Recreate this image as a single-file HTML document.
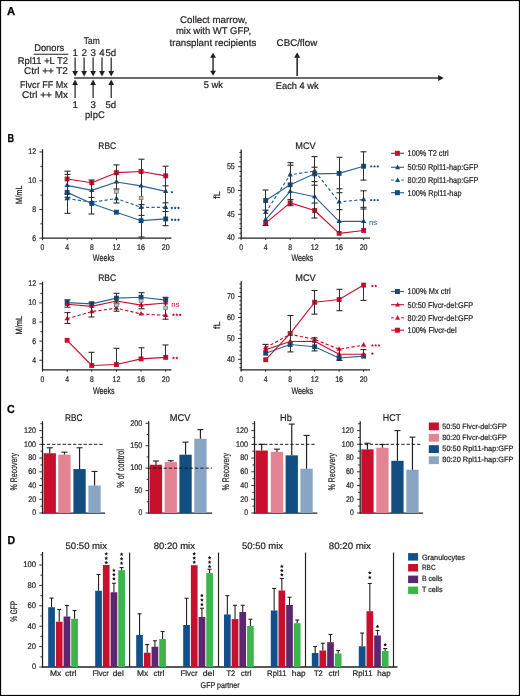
<!DOCTYPE html>
<html><head><meta charset="utf-8"><title>Figure</title>
<style>html,body{margin:0;padding:0;background:#fff;width:520px;height:696px;overflow:hidden}
svg{display:block;will-change:transform;font-family:"Liberation Sans", sans-serif}</style></head>
<body>
<svg width="520" height="696" viewBox="0 0 520 696" text-rendering="geometricPrecision" font-family='"Liberation Sans", sans-serif'>
<rect x="0" y="0" width="520" height="696" fill="#ffffff"/>
<rect x="0.5" y="0.5" width="519" height="695" fill="none" stroke="#000" stroke-width="1.2"/>
<text x="6.9" y="14.8" font-size="11.6" fill="#000" textLength="8.1" lengthAdjust="spacingAndGlyphs" font-weight="bold" stroke="#000" stroke-width="0.25">A</text>
<text x="7.4" y="141.9" font-size="11.6" fill="#000" textLength="6.6" lengthAdjust="spacingAndGlyphs" font-weight="bold" stroke="#000" stroke-width="0.25">B</text>
<text x="6.9" y="413.3" font-size="11.6" fill="#000" textLength="7.7" lengthAdjust="spacingAndGlyphs" font-weight="bold" stroke="#000" stroke-width="0.25">C</text>
<text x="7.4" y="544.3" font-size="11.6" fill="#000" textLength="7.6" lengthAdjust="spacingAndGlyphs" font-weight="bold" stroke="#000" stroke-width="0.25">D</text>
<text x="49.2" y="51.3" font-size="9.7" fill="#231f20" textLength="30" lengthAdjust="spacingAndGlyphs" text-anchor="middle" stroke="#231f20" stroke-width="0.22">Donors</text>
<line x1="33.7" y1="54.3" x2="68.3" y2="54.3" stroke="#231f20" stroke-width="1.1" stroke-linecap="butt"/>
<text x="67.9" y="64.4" font-size="9.7" fill="#231f20" textLength="50.2" lengthAdjust="spacingAndGlyphs" text-anchor="end" stroke="#231f20" stroke-width="0.22">Rpl11 +L T2</text>
<text x="67.9" y="73.6" font-size="9.7" fill="#231f20" textLength="43.9" lengthAdjust="spacingAndGlyphs" text-anchor="end" stroke="#231f20" stroke-width="0.22">Ctrl ++ T2</text>
<text x="67.9" y="88.1" font-size="9.7" fill="#231f20" textLength="47.9" lengthAdjust="spacingAndGlyphs" text-anchor="end" stroke="#231f20" stroke-width="0.22">Flvcr FF Mx</text>
<text x="67.9" y="97.7" font-size="9.7" fill="#231f20" textLength="45.8" lengthAdjust="spacingAndGlyphs" text-anchor="end" stroke="#231f20" stroke-width="0.22">Ctrl ++ Mx</text>
<text x="91.7" y="43.5" font-size="9.7" fill="#231f20" textLength="15.9" lengthAdjust="spacingAndGlyphs" text-anchor="middle" stroke="#231f20" stroke-width="0.22">Tam</text>
<text x="75.1" y="55.8" font-size="9.7" fill="#231f20" text-anchor="middle" stroke="#231f20" stroke-width="0.22">1</text>
<text x="84.1" y="55.8" font-size="9.7" fill="#231f20" text-anchor="middle" stroke="#231f20" stroke-width="0.22">2</text>
<text x="93.1" y="55.8" font-size="9.7" fill="#231f20" text-anchor="middle" stroke="#231f20" stroke-width="0.22">3</text>
<text x="101.9" y="55.8" font-size="9.7" fill="#231f20" text-anchor="middle" stroke="#231f20" stroke-width="0.22">4</text>
<text x="110.8" y="55.8" font-size="9.7" fill="#231f20" textLength="10.7" lengthAdjust="spacingAndGlyphs" text-anchor="middle" stroke="#231f20" stroke-width="0.22">5d</text>
<text x="75.1" y="108.1" font-size="9.7" fill="#231f20" text-anchor="middle" stroke="#231f20" stroke-width="0.22">1</text>
<text x="93.1" y="108.1" font-size="9.7" fill="#231f20" text-anchor="middle" stroke="#231f20" stroke-width="0.22">3</text>
<text x="110.8" y="108.1" font-size="9.7" fill="#231f20" textLength="10.7" lengthAdjust="spacingAndGlyphs" text-anchor="middle" stroke="#231f20" stroke-width="0.22">5d</text>
<text x="94.8" y="117.6" font-size="9.7" fill="#231f20" textLength="19.8" lengthAdjust="spacingAndGlyphs" text-anchor="middle" stroke="#231f20" stroke-width="0.22">pIpC</text>
<line x1="74.2" y1="78" x2="439" y2="78" stroke="#3b3b3b" stroke-width="1.6" stroke-linecap="butt"/>
<polygon points="438.2,75 443.7,78 438.2,81" fill="#231f20"/>
<line x1="75.1" y1="57.6" x2="75.1" y2="71.6" stroke="#231f20" stroke-width="1.2" stroke-linecap="butt"/>
<polygon points="72.2,71.1 78,71.1 75.1,76.5" fill="#231f20"/>
<line x1="84.1" y1="57.6" x2="84.1" y2="71.6" stroke="#231f20" stroke-width="1.2" stroke-linecap="butt"/>
<polygon points="81.2,71.1 87,71.1 84.1,76.5" fill="#231f20"/>
<line x1="93.1" y1="57.6" x2="93.1" y2="71.6" stroke="#231f20" stroke-width="1.2" stroke-linecap="butt"/>
<polygon points="90.2,71.1 96,71.1 93.1,76.5" fill="#231f20"/>
<line x1="102" y1="57.6" x2="102" y2="71.6" stroke="#231f20" stroke-width="1.2" stroke-linecap="butt"/>
<polygon points="99.1,71.1 104.9,71.1 102,76.5" fill="#231f20"/>
<line x1="111.2" y1="57.6" x2="111.2" y2="71.6" stroke="#231f20" stroke-width="1.2" stroke-linecap="butt"/>
<polygon points="108.3,71.1 114.1,71.1 111.2,76.5" fill="#231f20"/>
<line x1="75.1" y1="84.5" x2="75.1" y2="98" stroke="#231f20" stroke-width="1.2" stroke-linecap="butt"/>
<polygon points="72.2,85 78,85 75.1,79.6" fill="#231f20"/>
<line x1="93.1" y1="84.5" x2="93.1" y2="98" stroke="#231f20" stroke-width="1.2" stroke-linecap="butt"/>
<polygon points="90.2,85 96,85 93.1,79.6" fill="#231f20"/>
<line x1="111.2" y1="84.5" x2="111.2" y2="98" stroke="#231f20" stroke-width="1.2" stroke-linecap="butt"/>
<polygon points="108.3,85 114.1,85 111.2,79.6" fill="#231f20"/>
<line x1="213.05" y1="56.5" x2="213.05" y2="71.5" stroke="#333" stroke-width="1.5" stroke-linecap="butt"/>
<polygon points="210.1,57.7 216,57.7 213.05,52.7" fill="#231f20"/>
<polygon points="210.1,70.8 216,70.8 213.05,75.7" fill="#231f20"/>
<line x1="297.15" y1="57.2" x2="297.15" y2="75.9" stroke="#231f20" stroke-width="1.5" stroke-linecap="butt"/>
<polygon points="294.05,57.7 300.25,57.7 297.15,52.6" fill="#231f20"/>
<text x="213.6" y="23.1" font-size="9.7" fill="#231f20" textLength="67.1" lengthAdjust="spacingAndGlyphs" text-anchor="middle" stroke="#231f20" stroke-width="0.22">Collect marrow,</text>
<text x="213.5" y="34.3" font-size="9.7" fill="#231f20" textLength="75.1" lengthAdjust="spacingAndGlyphs" text-anchor="middle" stroke="#231f20" stroke-width="0.22">mix with WT GFP,</text>
<text x="212.9" y="45.7" font-size="9.7" fill="#231f20" textLength="86.8" lengthAdjust="spacingAndGlyphs" text-anchor="middle" stroke="#231f20" stroke-width="0.22">transplant recipients</text>
<text x="213.4" y="88.3" font-size="9.7" fill="#231f20" textLength="19.2" lengthAdjust="spacingAndGlyphs" text-anchor="middle" stroke="#231f20" stroke-width="0.22">5 wk</text>
<text x="296.9" y="46.2" font-size="9.7" fill="#231f20" textLength="40.6" lengthAdjust="spacingAndGlyphs" text-anchor="middle" stroke="#231f20" stroke-width="0.22">CBC/flow</text>
<text x="297.2" y="88.5" font-size="9.7" fill="#231f20" textLength="42.7" lengthAdjust="spacingAndGlyphs" text-anchor="middle" stroke="#231f20" stroke-width="0.22">Each 4 wk</text>
<text x="107.2" y="148.6" font-size="9.5" fill="#231f20" textLength="17.8" lengthAdjust="spacingAndGlyphs" text-anchor="middle" stroke="#231f20" stroke-width="0.22">RBC</text>
<text x="22.5" y="194.65" font-size="9" fill="#231f20" textLength="18.5" lengthAdjust="spacingAndGlyphs" transform="rotate(-90 22.5 194.65)" text-anchor="middle" stroke="#231f20" stroke-width="0.22">M/mL</text>
<line x1="42.5" y1="149.2" x2="42.5" y2="238.8" stroke="#231f20" stroke-width="1.25" stroke-linecap="butt"/>
<line x1="40.4" y1="223.83" x2="42.5" y2="223.83" stroke="#231f20" stroke-width="0.9" stroke-linecap="butt"/>
<line x1="40.4" y1="195.09" x2="42.5" y2="195.09" stroke="#231f20" stroke-width="0.9" stroke-linecap="butt"/>
<line x1="40.4" y1="166.35" x2="42.5" y2="166.35" stroke="#231f20" stroke-width="0.9" stroke-linecap="butt"/>
<line x1="39.3" y1="238.2" x2="42.5" y2="238.2" stroke="#231f20" stroke-width="0.9" stroke-linecap="butt"/>
<text x="36.1" y="241" font-size="8.2" fill="#231f20" textLength="3.8" lengthAdjust="spacingAndGlyphs" text-anchor="end" stroke="#231f20" stroke-width="0.22">6</text>
<line x1="39.3" y1="209.46" x2="42.5" y2="209.46" stroke="#231f20" stroke-width="0.9" stroke-linecap="butt"/>
<text x="36.1" y="212" font-size="8.2" fill="#231f20" textLength="3.8" lengthAdjust="spacingAndGlyphs" text-anchor="end" stroke="#231f20" stroke-width="0.22">8</text>
<line x1="39.3" y1="180.72" x2="42.5" y2="180.72" stroke="#231f20" stroke-width="0.9" stroke-linecap="butt"/>
<text x="36.1" y="183" font-size="8.2" fill="#231f20" textLength="7.9" lengthAdjust="spacingAndGlyphs" text-anchor="end" stroke="#231f20" stroke-width="0.22">10</text>
<line x1="39.3" y1="151.98" x2="42.5" y2="151.98" stroke="#231f20" stroke-width="0.9" stroke-linecap="butt"/>
<text x="36.1" y="154" font-size="8.2" fill="#231f20" textLength="7.9" lengthAdjust="spacingAndGlyphs" text-anchor="end" stroke="#231f20" stroke-width="0.22">12</text>
<line x1="41.9" y1="238.2" x2="171.5" y2="238.2" stroke="#231f20" stroke-width="1.25" stroke-linecap="butt"/>
<line x1="42.5" y1="238.2" x2="42.5" y2="240.2" stroke="#231f20" stroke-width="0.9" stroke-linecap="butt"/>
<text x="42.5" y="249.9" font-size="8.2" fill="#231f20" textLength="3.8" lengthAdjust="spacingAndGlyphs" text-anchor="middle" stroke="#231f20" stroke-width="0.22">0</text>
<line x1="67.14" y1="238.2" x2="67.14" y2="240.2" stroke="#231f20" stroke-width="0.9" stroke-linecap="butt"/>
<text x="67.14" y="249.9" font-size="8.2" fill="#231f20" textLength="3.8" lengthAdjust="spacingAndGlyphs" text-anchor="middle" stroke="#231f20" stroke-width="0.22">4</text>
<line x1="91.78" y1="238.2" x2="91.78" y2="240.2" stroke="#231f20" stroke-width="0.9" stroke-linecap="butt"/>
<text x="91.78" y="249.9" font-size="8.2" fill="#231f20" textLength="3.8" lengthAdjust="spacingAndGlyphs" text-anchor="middle" stroke="#231f20" stroke-width="0.22">8</text>
<line x1="116.42" y1="238.2" x2="116.42" y2="240.2" stroke="#231f20" stroke-width="0.9" stroke-linecap="butt"/>
<text x="116.42" y="249.9" font-size="8.2" fill="#231f20" textLength="7.9" lengthAdjust="spacingAndGlyphs" text-anchor="middle" stroke="#231f20" stroke-width="0.22">12</text>
<line x1="141.06" y1="238.2" x2="141.06" y2="240.2" stroke="#231f20" stroke-width="0.9" stroke-linecap="butt"/>
<text x="141.06" y="249.9" font-size="8.2" fill="#231f20" textLength="7.9" lengthAdjust="spacingAndGlyphs" text-anchor="middle" stroke="#231f20" stroke-width="0.22">16</text>
<line x1="165.7" y1="238.2" x2="165.7" y2="240.2" stroke="#231f20" stroke-width="0.9" stroke-linecap="butt"/>
<text x="165.7" y="249.9" font-size="8.2" fill="#231f20" textLength="7.9" lengthAdjust="spacingAndGlyphs" text-anchor="middle" stroke="#231f20" stroke-width="0.22">20</text>
<text x="103.7" y="261.4" font-size="9.6" fill="#231f20" textLength="21.8" lengthAdjust="spacingAndGlyphs" text-anchor="middle" stroke="#231f20" stroke-width="0.22">Weeks</text>
<polyline points="67.14,179 91.78,182.73 116.42,172.67 141.06,171.52 165.7,175.83" fill="none" stroke="#c8102e" stroke-width="1.15" stroke-linejoin="round"/>
<polyline points="67.14,185.32 91.78,190.35 116.42,182.01 141.06,185.89 165.7,191.35" fill="none" stroke="#2d6399" stroke-width="1.15" stroke-linejoin="round"/>
<polyline points="67.14,198.54 91.78,202.27 116.42,198.54 141.06,207.3 165.7,207.3" fill="none" stroke="#2d6399" stroke-width="1.15" stroke-dasharray="3.2,2.2" stroke-linejoin="round"/>
<polyline points="67.14,192.36 91.78,203.42 116.42,212.19 141.06,220.67 165.7,218.94" fill="none" stroke="#2d6399" stroke-width="1.15" stroke-linejoin="round"/>
<rect x="64.69" y="176.55" width="4.9" height="4.9" fill="#c8102e"/>
<rect x="89.33" y="180.28" width="4.9" height="4.9" fill="#c8102e"/>
<rect x="113.97" y="170.22" width="4.9" height="4.9" fill="#c8102e"/>
<rect x="138.61" y="169.07" width="4.9" height="4.9" fill="#c8102e"/>
<rect x="163.25" y="173.38" width="4.9" height="4.9" fill="#c8102e"/>
<polygon points="67.14,182.32 69.84,186.92 64.44,186.92" fill="#134e80"/>
<polygon points="91.78,187.35 94.48,191.95 89.08,191.95" fill="#134e80"/>
<polygon points="116.42,179.01 119.12,183.61 113.72,183.61" fill="#134e80"/>
<polygon points="141.06,182.89 143.76,187.49 138.36,187.49" fill="#134e80"/>
<polygon points="165.7,188.35 168.4,192.95 163,192.95" fill="#134e80"/>
<polygon points="67.14,195.54 69.84,200.14 64.44,200.14" fill="#134e80"/>
<polygon points="91.78,199.27 94.48,203.87 89.08,203.87" fill="#134e80"/>
<polygon points="116.42,195.54 119.12,200.14 113.72,200.14" fill="#134e80"/>
<polygon points="141.06,204.3 143.76,208.9 138.36,208.9" fill="#134e80"/>
<polygon points="165.7,204.3 168.4,208.9 163,208.9" fill="#134e80"/>
<rect x="64.69" y="189.91" width="4.9" height="4.9" fill="#134e80"/>
<rect x="89.33" y="200.97" width="4.9" height="4.9" fill="#134e80"/>
<rect x="113.97" y="209.74" width="4.9" height="4.9" fill="#134e80"/>
<rect x="138.61" y="218.22" width="4.9" height="4.9" fill="#134e80"/>
<rect x="163.25" y="216.49" width="4.9" height="4.9" fill="#134e80"/>
<line x1="67.5" y1="171.2" x2="67.5" y2="213.3" stroke="#303030" stroke-width="1" stroke-linecap="butt"/>
<line x1="64.5" y1="171.2" x2="70.5" y2="171.2" stroke="#2a2a2a" stroke-width="1.1" stroke-linecap="butt"/>
<line x1="64.5" y1="174.4" x2="70.5" y2="174.4" stroke="#2a2a2a" stroke-width="1.1" stroke-linecap="butt"/>
<line x1="64.5" y1="194" x2="70.5" y2="194" stroke="#2a2a2a" stroke-width="1.1" stroke-linecap="butt"/>
<line x1="64.5" y1="197.3" x2="70.5" y2="197.3" stroke="#2a2a2a" stroke-width="1.1" stroke-linecap="butt"/>
<line x1="64.5" y1="213.3" x2="70.5" y2="213.3" stroke="#2a2a2a" stroke-width="1.1" stroke-linecap="butt"/>
<line x1="91.5" y1="180" x2="91.5" y2="214" stroke="#303030" stroke-width="1" stroke-linecap="butt"/>
<line x1="88.5" y1="180" x2="94.5" y2="180" stroke="#2a2a2a" stroke-width="1.1" stroke-linecap="butt"/>
<line x1="88.5" y1="197.4" x2="94.5" y2="197.4" stroke="#2a2a2a" stroke-width="1.1" stroke-linecap="butt"/>
<line x1="88.5" y1="214" x2="94.5" y2="214" stroke="#2a2a2a" stroke-width="1.1" stroke-linecap="butt"/>
<line x1="116.5" y1="164.9" x2="116.5" y2="203" stroke="#303030" stroke-width="1" stroke-linecap="butt"/>
<line x1="113.5" y1="164.9" x2="119.5" y2="164.9" stroke="#2a2a2a" stroke-width="1.1" stroke-linecap="butt"/>
<line x1="113.5" y1="189" x2="119.5" y2="189" stroke="#2a2a2a" stroke-width="1.1" stroke-linecap="butt"/>
<line x1="113.5" y1="203" x2="119.5" y2="203" stroke="#2a2a2a" stroke-width="1.1" stroke-linecap="butt"/>
<line x1="141.5" y1="159.2" x2="141.5" y2="237" stroke="#303030" stroke-width="1" stroke-linecap="butt"/>
<line x1="138.5" y1="159.2" x2="144.5" y2="159.2" stroke="#2a2a2a" stroke-width="1.1" stroke-linecap="butt"/>
<line x1="138.5" y1="204.6" x2="144.5" y2="204.6" stroke="#2a2a2a" stroke-width="1.1" stroke-linecap="butt"/>
<line x1="138.5" y1="215.4" x2="144.5" y2="215.4" stroke="#2a2a2a" stroke-width="1.1" stroke-linecap="butt"/>
<line x1="138.5" y1="237" x2="144.5" y2="237" stroke="#2a2a2a" stroke-width="1.1" stroke-linecap="butt"/>
<line x1="165.5" y1="166.2" x2="165.5" y2="225.7" stroke="#303030" stroke-width="1" stroke-linecap="butt"/>
<line x1="162.5" y1="166.2" x2="168.5" y2="166.2" stroke="#2a2a2a" stroke-width="1.1" stroke-linecap="butt"/>
<line x1="162.5" y1="185.8" x2="168.5" y2="185.8" stroke="#2a2a2a" stroke-width="1.1" stroke-linecap="butt"/>
<line x1="162.5" y1="202.8" x2="168.5" y2="202.8" stroke="#2a2a2a" stroke-width="1.1" stroke-linecap="butt"/>
<line x1="162.5" y1="211.5" x2="168.5" y2="211.5" stroke="#2a2a2a" stroke-width="1.1" stroke-linecap="butt"/>
<line x1="162.5" y1="225.7" x2="168.5" y2="225.7" stroke="#2a2a2a" stroke-width="1.1" stroke-linecap="butt"/>
<rect x="114.52" y="189.8" width="3.8" height="3.4" fill="#c4c4c4" stroke="#6a6a6a" stroke-width="0.7"/>
<rect x="139.16" y="196.3" width="3.8" height="3.4" fill="#c4c4c4" stroke="#6a6a6a" stroke-width="0.7"/>
<polygon points="171.9,190.75 172.43,191.47 173.28,191.75 172.75,192.48 172.75,193.37 171.9,193.1 171.05,193.37 171.05,192.48 170.52,191.75 171.37,191.47" fill="#134e80"/>
<polygon points="171.9,206.55 172.43,207.27 173.28,207.55 172.75,208.28 172.75,209.17 171.9,208.9 171.05,209.17 171.05,208.28 170.52,207.55 171.37,207.27" fill="#134e80"/>
<polygon points="175.2,206.55 175.73,207.27 176.58,207.55 176.05,208.28 176.05,209.17 175.2,208.9 174.35,209.17 174.35,208.28 173.82,207.55 174.67,207.27" fill="#134e80"/>
<polygon points="178.5,206.55 179.03,207.27 179.88,207.55 179.35,208.28 179.35,209.17 178.5,208.9 177.65,209.17 177.65,208.28 177.12,207.55 177.97,207.27" fill="#134e80"/>
<polygon points="171.9,218.35 172.43,219.07 173.28,219.35 172.75,220.08 172.75,220.97 171.9,220.7 171.05,220.97 171.05,220.08 170.52,219.35 171.37,219.07" fill="#134e80"/>
<polygon points="175.2,218.35 175.73,219.07 176.58,219.35 176.05,220.08 176.05,220.97 175.2,220.7 174.35,220.97 174.35,220.08 173.82,219.35 174.67,219.07" fill="#134e80"/>
<polygon points="178.5,218.35 179.03,219.07 179.88,219.35 179.35,220.08 179.35,220.97 178.5,220.7 177.65,220.97 177.65,220.08 177.12,219.35 177.97,219.07" fill="#134e80"/>
<text x="305.5" y="148.6" font-size="9.5" fill="#231f20" textLength="20.5" lengthAdjust="spacingAndGlyphs" text-anchor="middle" stroke="#231f20" stroke-width="0.22">MCV</text>
<text x="220.3" y="194.9" font-size="9" fill="#231f20" transform="rotate(-90 220.3 194.9)" text-anchor="middle" stroke="#231f20" stroke-width="0.22">fL</text>
<line x1="241.2" y1="149.5" x2="241.2" y2="238.7" stroke="#231f20" stroke-width="1.25" stroke-linecap="butt"/>
<line x1="239.4" y1="233.34" x2="241.2" y2="233.34" stroke="#231f20" stroke-width="0.9" stroke-linecap="butt"/>
<line x1="239.4" y1="228.58" x2="241.2" y2="228.58" stroke="#231f20" stroke-width="0.9" stroke-linecap="butt"/>
<line x1="239.4" y1="223.82" x2="241.2" y2="223.82" stroke="#231f20" stroke-width="0.9" stroke-linecap="butt"/>
<line x1="239.4" y1="219.06" x2="241.2" y2="219.06" stroke="#231f20" stroke-width="0.9" stroke-linecap="butt"/>
<line x1="239.4" y1="209.54" x2="241.2" y2="209.54" stroke="#231f20" stroke-width="0.9" stroke-linecap="butt"/>
<line x1="239.4" y1="204.78" x2="241.2" y2="204.78" stroke="#231f20" stroke-width="0.9" stroke-linecap="butt"/>
<line x1="239.4" y1="200.02" x2="241.2" y2="200.02" stroke="#231f20" stroke-width="0.9" stroke-linecap="butt"/>
<line x1="239.4" y1="195.26" x2="241.2" y2="195.26" stroke="#231f20" stroke-width="0.9" stroke-linecap="butt"/>
<line x1="239.4" y1="185.74" x2="241.2" y2="185.74" stroke="#231f20" stroke-width="0.9" stroke-linecap="butt"/>
<line x1="239.4" y1="180.98" x2="241.2" y2="180.98" stroke="#231f20" stroke-width="0.9" stroke-linecap="butt"/>
<line x1="239.4" y1="176.22" x2="241.2" y2="176.22" stroke="#231f20" stroke-width="0.9" stroke-linecap="butt"/>
<line x1="239.4" y1="171.46" x2="241.2" y2="171.46" stroke="#231f20" stroke-width="0.9" stroke-linecap="butt"/>
<line x1="239.4" y1="161.94" x2="241.2" y2="161.94" stroke="#231f20" stroke-width="0.9" stroke-linecap="butt"/>
<line x1="239.4" y1="157.18" x2="241.2" y2="157.18" stroke="#231f20" stroke-width="0.9" stroke-linecap="butt"/>
<line x1="239.4" y1="152.42" x2="241.2" y2="152.42" stroke="#231f20" stroke-width="0.9" stroke-linecap="butt"/>
<line x1="238" y1="238.1" x2="241.2" y2="238.1" stroke="#231f20" stroke-width="0.9" stroke-linecap="butt"/>
<text x="234.8" y="240" font-size="8.2" fill="#231f20" textLength="7.9" lengthAdjust="spacingAndGlyphs" text-anchor="end" stroke="#231f20" stroke-width="0.22">40</text>
<line x1="238" y1="214.3" x2="241.2" y2="214.3" stroke="#231f20" stroke-width="0.9" stroke-linecap="butt"/>
<text x="234.8" y="217" font-size="8.2" fill="#231f20" textLength="7.9" lengthAdjust="spacingAndGlyphs" text-anchor="end" stroke="#231f20" stroke-width="0.22">45</text>
<line x1="238" y1="190.5" x2="241.2" y2="190.5" stroke="#231f20" stroke-width="0.9" stroke-linecap="butt"/>
<text x="234.8" y="193" font-size="8.2" fill="#231f20" textLength="7.9" lengthAdjust="spacingAndGlyphs" text-anchor="end" stroke="#231f20" stroke-width="0.22">50</text>
<line x1="238" y1="166.7" x2="241.2" y2="166.7" stroke="#231f20" stroke-width="0.9" stroke-linecap="butt"/>
<text x="234.8" y="169" font-size="8.2" fill="#231f20" textLength="7.9" lengthAdjust="spacingAndGlyphs" text-anchor="end" stroke="#231f20" stroke-width="0.22">55</text>
<line x1="240.6" y1="238.1" x2="370" y2="238.1" stroke="#231f20" stroke-width="1.25" stroke-linecap="butt"/>
<line x1="241.2" y1="238.1" x2="241.2" y2="240.1" stroke="#231f20" stroke-width="0.9" stroke-linecap="butt"/>
<text x="241.2" y="249.8" font-size="8.2" fill="#231f20" textLength="3.8" lengthAdjust="spacingAndGlyphs" text-anchor="middle" stroke="#231f20" stroke-width="0.22">0</text>
<line x1="265.68" y1="238.1" x2="265.68" y2="240.1" stroke="#231f20" stroke-width="0.9" stroke-linecap="butt"/>
<text x="265.68" y="249.8" font-size="8.2" fill="#231f20" textLength="3.8" lengthAdjust="spacingAndGlyphs" text-anchor="middle" stroke="#231f20" stroke-width="0.22">4</text>
<line x1="290.16" y1="238.1" x2="290.16" y2="240.1" stroke="#231f20" stroke-width="0.9" stroke-linecap="butt"/>
<text x="290.16" y="249.8" font-size="8.2" fill="#231f20" textLength="3.8" lengthAdjust="spacingAndGlyphs" text-anchor="middle" stroke="#231f20" stroke-width="0.22">8</text>
<line x1="314.64" y1="238.1" x2="314.64" y2="240.1" stroke="#231f20" stroke-width="0.9" stroke-linecap="butt"/>
<text x="314.64" y="249.8" font-size="8.2" fill="#231f20" textLength="7.9" lengthAdjust="spacingAndGlyphs" text-anchor="middle" stroke="#231f20" stroke-width="0.22">12</text>
<line x1="339.12" y1="238.1" x2="339.12" y2="240.1" stroke="#231f20" stroke-width="0.9" stroke-linecap="butt"/>
<text x="339.12" y="249.8" font-size="8.2" fill="#231f20" textLength="7.9" lengthAdjust="spacingAndGlyphs" text-anchor="middle" stroke="#231f20" stroke-width="0.22">16</text>
<line x1="363.6" y1="238.1" x2="363.6" y2="240.1" stroke="#231f20" stroke-width="0.9" stroke-linecap="butt"/>
<text x="363.6" y="249.8" font-size="8.2" fill="#231f20" textLength="7.9" lengthAdjust="spacingAndGlyphs" text-anchor="middle" stroke="#231f20" stroke-width="0.22">20</text>
<text x="302.3" y="261.4" font-size="9.6" fill="#231f20" textLength="21.8" lengthAdjust="spacingAndGlyphs" text-anchor="middle" stroke="#231f20" stroke-width="0.22">Weeks</text>
<polyline points="265.68,222.87 290.16,202.88 314.64,210.49 339.12,233.34 363.6,230.48" fill="none" stroke="#c8102e" stroke-width="1.15" stroke-linejoin="round"/>
<polyline points="265.68,219.54 290.16,191.45 314.64,196.69 339.12,221.44 363.6,221.44" fill="none" stroke="#2d6399" stroke-width="1.15" stroke-linejoin="round"/>
<polyline points="265.68,212.4 290.16,174.79 314.64,170.98 339.12,201.92 363.6,199.54" fill="none" stroke="#2d6399" stroke-width="1.15" stroke-dasharray="3.2,2.2" stroke-linejoin="round"/>
<polyline points="265.68,200.5 290.16,184.79 314.64,173.84 339.12,173.36 363.6,166.22" fill="none" stroke="#2d6399" stroke-width="1.15" stroke-linejoin="round"/>
<rect x="263.23" y="220.42" width="4.9" height="4.9" fill="#c8102e"/>
<rect x="287.71" y="200.43" width="4.9" height="4.9" fill="#c8102e"/>
<rect x="312.19" y="208.04" width="4.9" height="4.9" fill="#c8102e"/>
<rect x="336.67" y="230.89" width="4.9" height="4.9" fill="#c8102e"/>
<rect x="361.15" y="228.03" width="4.9" height="4.9" fill="#c8102e"/>
<polygon points="265.68,216.54 268.38,221.14 262.98,221.14" fill="#134e80"/>
<polygon points="290.16,188.45 292.86,193.05 287.46,193.05" fill="#134e80"/>
<polygon points="314.64,193.69 317.34,198.29 311.94,198.29" fill="#134e80"/>
<polygon points="339.12,218.44 341.82,223.04 336.42,223.04" fill="#134e80"/>
<polygon points="363.6,218.44 366.3,223.04 360.9,223.04" fill="#134e80"/>
<polygon points="265.68,209.4 268.38,214 262.98,214" fill="#134e80"/>
<polygon points="290.16,171.79 292.86,176.39 287.46,176.39" fill="#134e80"/>
<polygon points="314.64,167.98 317.34,172.58 311.94,172.58" fill="#134e80"/>
<polygon points="339.12,198.92 341.82,203.52 336.42,203.52" fill="#134e80"/>
<polygon points="363.6,196.54 366.3,201.14 360.9,201.14" fill="#134e80"/>
<rect x="263.23" y="198.05" width="4.9" height="4.9" fill="#134e80"/>
<rect x="287.71" y="182.34" width="4.9" height="4.9" fill="#134e80"/>
<rect x="312.19" y="171.39" width="4.9" height="4.9" fill="#134e80"/>
<rect x="336.67" y="170.91" width="4.9" height="4.9" fill="#134e80"/>
<rect x="361.15" y="163.77" width="4.9" height="4.9" fill="#134e80"/>
<line x1="265.5" y1="190" x2="265.5" y2="225.5" stroke="#303030" stroke-width="1" stroke-linecap="butt"/>
<line x1="262.5" y1="190" x2="268.5" y2="190" stroke="#2a2a2a" stroke-width="1.1" stroke-linecap="butt"/>
<line x1="262.5" y1="210.2" x2="268.5" y2="210.2" stroke="#2a2a2a" stroke-width="1.1" stroke-linecap="butt"/>
<line x1="262.5" y1="225.5" x2="268.5" y2="225.5" stroke="#2a2a2a" stroke-width="1.1" stroke-linecap="butt"/>
<line x1="290.5" y1="162.7" x2="290.5" y2="205.7" stroke="#303030" stroke-width="1" stroke-linecap="butt"/>
<line x1="287.5" y1="162.7" x2="293.5" y2="162.7" stroke="#2a2a2a" stroke-width="1.1" stroke-linecap="butt"/>
<line x1="287.5" y1="165.2" x2="293.5" y2="165.2" stroke="#2a2a2a" stroke-width="1.1" stroke-linecap="butt"/>
<line x1="287.5" y1="199.6" x2="293.5" y2="199.6" stroke="#2a2a2a" stroke-width="1.1" stroke-linecap="butt"/>
<line x1="287.5" y1="205.7" x2="293.5" y2="205.7" stroke="#2a2a2a" stroke-width="1.1" stroke-linecap="butt"/>
<line x1="314.5" y1="156.6" x2="314.5" y2="218" stroke="#303030" stroke-width="1" stroke-linecap="butt"/>
<line x1="311.5" y1="156.6" x2="317.5" y2="156.6" stroke="#2a2a2a" stroke-width="1.1" stroke-linecap="butt"/>
<line x1="311.5" y1="167.2" x2="317.5" y2="167.2" stroke="#2a2a2a" stroke-width="1.1" stroke-linecap="butt"/>
<line x1="311.5" y1="181.6" x2="317.5" y2="181.6" stroke="#2a2a2a" stroke-width="1.1" stroke-linecap="butt"/>
<line x1="311.5" y1="185.2" x2="317.5" y2="185.2" stroke="#2a2a2a" stroke-width="1.1" stroke-linecap="butt"/>
<line x1="311.5" y1="203" x2="317.5" y2="203" stroke="#2a2a2a" stroke-width="1.1" stroke-linecap="butt"/>
<line x1="311.5" y1="218" x2="317.5" y2="218" stroke="#2a2a2a" stroke-width="1.1" stroke-linecap="butt"/>
<line x1="339.5" y1="157.3" x2="339.5" y2="233" stroke="#303030" stroke-width="1" stroke-linecap="butt"/>
<line x1="336.5" y1="157.3" x2="342.5" y2="157.3" stroke="#2a2a2a" stroke-width="1.1" stroke-linecap="butt"/>
<line x1="336.5" y1="188.8" x2="342.5" y2="188.8" stroke="#2a2a2a" stroke-width="1.1" stroke-linecap="butt"/>
<line x1="336.5" y1="192.7" x2="342.5" y2="192.7" stroke="#2a2a2a" stroke-width="1.1" stroke-linecap="butt"/>
<line x1="336.5" y1="209.6" x2="342.5" y2="209.6" stroke="#2a2a2a" stroke-width="1.1" stroke-linecap="butt"/>
<line x1="363.5" y1="151.8" x2="363.5" y2="180.1" stroke="#303030" stroke-width="1" stroke-linecap="butt"/>
<line x1="360.5" y1="151.8" x2="366.5" y2="151.8" stroke="#2a2a2a" stroke-width="1.1" stroke-linecap="butt"/>
<line x1="360.5" y1="180.1" x2="366.5" y2="180.1" stroke="#2a2a2a" stroke-width="1.1" stroke-linecap="butt"/>
<line x1="363.5" y1="190.8" x2="363.5" y2="230" stroke="#303030" stroke-width="1" stroke-linecap="butt"/>
<line x1="360.5" y1="190.8" x2="366.5" y2="190.8" stroke="#2a2a2a" stroke-width="1.1" stroke-linecap="butt"/>
<line x1="360.5" y1="207.3" x2="366.5" y2="207.3" stroke="#2a2a2a" stroke-width="1.1" stroke-linecap="butt"/>
<line x1="360.5" y1="209" x2="366.5" y2="209" stroke="#2a2a2a" stroke-width="1.1" stroke-linecap="butt"/>
<polygon points="371.2,164.95 371.73,165.67 372.58,165.95 372.05,166.68 372.05,167.57 371.2,167.3 370.35,167.57 370.35,166.68 369.82,165.95 370.67,165.67" fill="#134e80"/>
<polygon points="374.5,164.95 375.03,165.67 375.88,165.95 375.35,166.68 375.35,167.57 374.5,167.3 373.65,167.57 373.65,166.68 373.12,165.95 373.97,165.67" fill="#134e80"/>
<polygon points="377.8,164.95 378.33,165.67 379.18,165.95 378.65,166.68 378.65,167.57 377.8,167.3 376.95,167.57 376.95,166.68 376.42,165.95 377.27,165.67" fill="#134e80"/>
<polygon points="371.2,198.75 371.73,199.47 372.58,199.75 372.05,200.48 372.05,201.37 371.2,201.1 370.35,201.37 370.35,200.48 369.82,199.75 370.67,199.47" fill="#134e80"/>
<polygon points="374.5,198.75 375.03,199.47 375.88,199.75 375.35,200.48 375.35,201.37 374.5,201.1 373.65,201.37 373.65,200.48 373.12,199.75 373.97,199.47" fill="#134e80"/>
<polygon points="377.8,198.75 378.33,199.47 379.18,199.75 378.65,200.48 378.65,201.37 377.8,201.1 376.95,201.37 376.95,200.48 376.42,199.75 377.27,199.47" fill="#134e80"/>
<text x="369" y="224.6" font-size="7.8" fill="#2d6399">ns</text>
<line x1="391.1" y1="153.3" x2="403.9" y2="153.3" stroke="#c8102e" stroke-width="1.15" stroke-linecap="butt"/>
<rect x="394.9" y="150.8" width="5" height="5" fill="#c8102e"/>
<text x="407.6" y="156.1" font-size="8.4" fill="#231f20" textLength="41" lengthAdjust="spacingAndGlyphs" stroke="#231f20" stroke-width="0.22">100% T2 ctrl</text>
<line x1="391.1" y1="167.3" x2="403.9" y2="167.3" stroke="#2d6399" stroke-width="1.15" stroke-linecap="butt"/>
<polygon points="397.6,164.6 400.1,169.2 395.1,169.2" fill="#134e80"/>
<text x="407.6" y="170.1" font-size="8.4" fill="#231f20" textLength="70.7" lengthAdjust="spacingAndGlyphs" stroke="#231f20" stroke-width="0.22">50:50 Rpl11-hap:GFP</text>
<line x1="391.1" y1="180.1" x2="393.7" y2="180.1" stroke="#2d6399" stroke-width="1.15" stroke-linecap="butt"/>
<line x1="401.4" y1="180.1" x2="403.9" y2="180.1" stroke="#2d6399" stroke-width="1.15" stroke-linecap="butt"/>
<polygon points="397.6,177.4 400.1,182 395.1,182" fill="#134e80"/>
<text x="407.6" y="182.9" font-size="8.4" fill="#231f20" textLength="70.7" lengthAdjust="spacingAndGlyphs" stroke="#231f20" stroke-width="0.22">80:20 Rpl11-hap:GFP</text>
<line x1="391.1" y1="192.7" x2="403.9" y2="192.7" stroke="#2d6399" stroke-width="1.15" stroke-linecap="butt"/>
<rect x="394.9" y="190.2" width="5" height="5" fill="#134e80"/>
<text x="407.6" y="195.5" font-size="8.4" fill="#231f20" textLength="54" lengthAdjust="spacingAndGlyphs" stroke="#231f20" stroke-width="0.22">100% Rpl11-hap</text>
<text x="107.15" y="280.6" font-size="9.5" fill="#231f20" textLength="17.9" lengthAdjust="spacingAndGlyphs" text-anchor="middle" stroke="#231f20" stroke-width="0.22">RBC</text>
<text x="22.5" y="325.2" font-size="9" fill="#231f20" textLength="18.5" lengthAdjust="spacingAndGlyphs" transform="rotate(-90 22.5 325.2)" text-anchor="middle" stroke="#231f20" stroke-width="0.22">M/mL</text>
<line x1="42.5" y1="281.7" x2="42.5" y2="370.4" stroke="#231f20" stroke-width="1.25" stroke-linecap="butt"/>
<line x1="40.4" y1="350.7" x2="42.5" y2="350.7" stroke="#231f20" stroke-width="0.9" stroke-linecap="butt"/>
<line x1="40.4" y1="331.6" x2="42.5" y2="331.6" stroke="#231f20" stroke-width="0.9" stroke-linecap="butt"/>
<line x1="40.4" y1="312.5" x2="42.5" y2="312.5" stroke="#231f20" stroke-width="0.9" stroke-linecap="butt"/>
<line x1="40.4" y1="293.4" x2="42.5" y2="293.4" stroke="#231f20" stroke-width="0.9" stroke-linecap="butt"/>
<line x1="39.3" y1="360.25" x2="42.5" y2="360.25" stroke="#231f20" stroke-width="0.9" stroke-linecap="butt"/>
<text x="36.1" y="363" font-size="8.2" fill="#231f20" textLength="3.8" lengthAdjust="spacingAndGlyphs" text-anchor="end" stroke="#231f20" stroke-width="0.22">4</text>
<line x1="39.3" y1="341.15" x2="42.5" y2="341.15" stroke="#231f20" stroke-width="0.9" stroke-linecap="butt"/>
<text x="36.1" y="344" font-size="8.2" fill="#231f20" textLength="3.8" lengthAdjust="spacingAndGlyphs" text-anchor="end" stroke="#231f20" stroke-width="0.22">6</text>
<line x1="39.3" y1="322.05" x2="42.5" y2="322.05" stroke="#231f20" stroke-width="0.9" stroke-linecap="butt"/>
<text x="36.1" y="324" font-size="8.2" fill="#231f20" textLength="3.8" lengthAdjust="spacingAndGlyphs" text-anchor="end" stroke="#231f20" stroke-width="0.22">8</text>
<line x1="39.3" y1="302.95" x2="42.5" y2="302.95" stroke="#231f20" stroke-width="0.9" stroke-linecap="butt"/>
<text x="36.1" y="305" font-size="8.2" fill="#231f20" textLength="7.9" lengthAdjust="spacingAndGlyphs" text-anchor="end" stroke="#231f20" stroke-width="0.22">10</text>
<line x1="39.3" y1="283.85" x2="42.5" y2="283.85" stroke="#231f20" stroke-width="0.9" stroke-linecap="butt"/>
<text x="36.1" y="286" font-size="8.2" fill="#231f20" textLength="7.9" lengthAdjust="spacingAndGlyphs" text-anchor="end" stroke="#231f20" stroke-width="0.22">12</text>
<line x1="41.9" y1="369.8" x2="171.5" y2="369.8" stroke="#231f20" stroke-width="1.25" stroke-linecap="butt"/>
<line x1="42.5" y1="369.8" x2="42.5" y2="371.8" stroke="#231f20" stroke-width="0.9" stroke-linecap="butt"/>
<text x="42.5" y="381.5" font-size="8.2" fill="#231f20" textLength="3.8" lengthAdjust="spacingAndGlyphs" text-anchor="middle" stroke="#231f20" stroke-width="0.22">0</text>
<line x1="67.14" y1="369.8" x2="67.14" y2="371.8" stroke="#231f20" stroke-width="0.9" stroke-linecap="butt"/>
<text x="67.14" y="381.5" font-size="8.2" fill="#231f20" textLength="3.8" lengthAdjust="spacingAndGlyphs" text-anchor="middle" stroke="#231f20" stroke-width="0.22">4</text>
<line x1="91.78" y1="369.8" x2="91.78" y2="371.8" stroke="#231f20" stroke-width="0.9" stroke-linecap="butt"/>
<text x="91.78" y="381.5" font-size="8.2" fill="#231f20" textLength="3.8" lengthAdjust="spacingAndGlyphs" text-anchor="middle" stroke="#231f20" stroke-width="0.22">8</text>
<line x1="116.42" y1="369.8" x2="116.42" y2="371.8" stroke="#231f20" stroke-width="0.9" stroke-linecap="butt"/>
<text x="116.42" y="381.5" font-size="8.2" fill="#231f20" textLength="7.9" lengthAdjust="spacingAndGlyphs" text-anchor="middle" stroke="#231f20" stroke-width="0.22">12</text>
<line x1="141.06" y1="369.8" x2="141.06" y2="371.8" stroke="#231f20" stroke-width="0.9" stroke-linecap="butt"/>
<text x="141.06" y="381.5" font-size="8.2" fill="#231f20" textLength="7.9" lengthAdjust="spacingAndGlyphs" text-anchor="middle" stroke="#231f20" stroke-width="0.22">16</text>
<line x1="165.7" y1="369.8" x2="165.7" y2="371.8" stroke="#231f20" stroke-width="0.9" stroke-linecap="butt"/>
<text x="165.7" y="381.5" font-size="8.2" fill="#231f20" textLength="7.9" lengthAdjust="spacingAndGlyphs" text-anchor="middle" stroke="#231f20" stroke-width="0.22">20</text>
<text x="103.8" y="394" font-size="9.6" fill="#231f20" textLength="21.8" lengthAdjust="spacingAndGlyphs" text-anchor="middle" stroke="#231f20" stroke-width="0.22">Weeks</text>
<polyline points="67.14,302.57 91.78,303.9 116.42,298.18 141.06,297.22 165.7,300.08" fill="none" stroke="#2d6399" stroke-width="1.15" stroke-linejoin="round"/>
<polyline points="67.14,304.29 91.78,306.39 116.42,301.04 141.06,305.15 165.7,302.95" fill="none" stroke="#c8102e" stroke-width="1.15" stroke-linejoin="round"/>
<polyline points="67.14,318.71 91.78,311.55 116.42,308.2 141.06,313.93 165.7,315.37" fill="none" stroke="#c8102e" stroke-width="1.15" stroke-dasharray="3.2,2.2" stroke-linejoin="round"/>
<polyline points="67.14,340.29 91.78,365.5 116.42,364.55 141.06,358.91 165.7,357.38" fill="none" stroke="#c8102e" stroke-width="1.15" stroke-linejoin="round"/>
<rect x="64.69" y="300.12" width="4.9" height="4.9" fill="#134e80"/>
<rect x="89.33" y="301.45" width="4.9" height="4.9" fill="#134e80"/>
<rect x="113.97" y="295.73" width="4.9" height="4.9" fill="#134e80"/>
<rect x="138.61" y="294.77" width="4.9" height="4.9" fill="#134e80"/>
<rect x="163.25" y="297.63" width="4.9" height="4.9" fill="#134e80"/>
<polygon points="67.14,301.29 69.84,305.89 64.44,305.89" fill="#c8102e"/>
<polygon points="91.78,303.39 94.48,307.99 89.08,307.99" fill="#c8102e"/>
<polygon points="116.42,298.04 119.12,302.64 113.72,302.64" fill="#c8102e"/>
<polygon points="141.06,302.15 143.76,306.75 138.36,306.75" fill="#c8102e"/>
<polygon points="165.7,299.95 168.4,304.55 163,304.55" fill="#c8102e"/>
<polygon points="67.14,315.71 69.84,320.31 64.44,320.31" fill="#c8102e"/>
<polygon points="91.78,308.55 94.48,313.15 89.08,313.15" fill="#c8102e"/>
<polygon points="116.42,305.2 119.12,309.8 113.72,309.8" fill="#c8102e"/>
<polygon points="141.06,310.93 143.76,315.53 138.36,315.53" fill="#c8102e"/>
<polygon points="165.7,312.37 168.4,316.97 163,316.97" fill="#c8102e"/>
<rect x="64.69" y="337.84" width="4.9" height="4.9" fill="#c8102e"/>
<rect x="89.33" y="363.05" width="4.9" height="4.9" fill="#c8102e"/>
<rect x="113.97" y="362.1" width="4.9" height="4.9" fill="#c8102e"/>
<rect x="138.61" y="356.46" width="4.9" height="4.9" fill="#c8102e"/>
<rect x="163.25" y="354.94" width="4.9" height="4.9" fill="#c8102e"/>
<line x1="67.5" y1="299.8" x2="67.5" y2="307.2" stroke="#303030" stroke-width="1" stroke-linecap="butt"/>
<line x1="64.5" y1="299.8" x2="70.5" y2="299.8" stroke="#2a2a2a" stroke-width="1.1" stroke-linecap="butt"/>
<line x1="64.5" y1="307.2" x2="70.5" y2="307.2" stroke="#2a2a2a" stroke-width="1.1" stroke-linecap="butt"/>
<line x1="67.5" y1="312.6" x2="67.5" y2="323.4" stroke="#303030" stroke-width="1" stroke-linecap="butt"/>
<line x1="64.5" y1="312.6" x2="70.5" y2="312.6" stroke="#2a2a2a" stroke-width="1.1" stroke-linecap="butt"/>
<line x1="64.5" y1="323.4" x2="70.5" y2="323.4" stroke="#2a2a2a" stroke-width="1.1" stroke-linecap="butt"/>
<line x1="91.5" y1="302.2" x2="91.5" y2="317" stroke="#303030" stroke-width="1" stroke-linecap="butt"/>
<line x1="88.5" y1="302.2" x2="94.5" y2="302.2" stroke="#2a2a2a" stroke-width="1.1" stroke-linecap="butt"/>
<line x1="88.5" y1="317" x2="94.5" y2="317" stroke="#2a2a2a" stroke-width="1.1" stroke-linecap="butt"/>
<line x1="91.5" y1="352.3" x2="91.5" y2="365.4" stroke="#303030" stroke-width="1" stroke-linecap="butt"/>
<line x1="88.5" y1="352.3" x2="94.5" y2="352.3" stroke="#2a2a2a" stroke-width="1.1" stroke-linecap="butt"/>
<line x1="116.5" y1="293.3" x2="116.5" y2="311.2" stroke="#303030" stroke-width="1" stroke-linecap="butt"/>
<line x1="113.5" y1="293.3" x2="119.5" y2="293.3" stroke="#2a2a2a" stroke-width="1.1" stroke-linecap="butt"/>
<line x1="113.5" y1="303.8" x2="119.5" y2="303.8" stroke="#2a2a2a" stroke-width="1.1" stroke-linecap="butt"/>
<line x1="113.5" y1="311.2" x2="119.5" y2="311.2" stroke="#2a2a2a" stroke-width="1.1" stroke-linecap="butt"/>
<line x1="116.5" y1="348.3" x2="116.5" y2="364.4" stroke="#303030" stroke-width="1" stroke-linecap="butt"/>
<line x1="113.5" y1="348.3" x2="119.5" y2="348.3" stroke="#2a2a2a" stroke-width="1.1" stroke-linecap="butt"/>
<line x1="141.5" y1="292.7" x2="141.5" y2="308.8" stroke="#303030" stroke-width="1" stroke-linecap="butt"/>
<line x1="138.5" y1="292.7" x2="144.5" y2="292.7" stroke="#2a2a2a" stroke-width="1.1" stroke-linecap="butt"/>
<line x1="138.5" y1="308.8" x2="144.5" y2="308.8" stroke="#2a2a2a" stroke-width="1.1" stroke-linecap="butt"/>
<line x1="141.5" y1="347.8" x2="141.5" y2="358.8" stroke="#303030" stroke-width="1" stroke-linecap="butt"/>
<line x1="138.5" y1="347.8" x2="144.5" y2="347.8" stroke="#2a2a2a" stroke-width="1.1" stroke-linecap="butt"/>
<line x1="165.5" y1="297.3" x2="165.5" y2="319.2" stroke="#303030" stroke-width="1" stroke-linecap="butt"/>
<line x1="162.5" y1="297.3" x2="168.5" y2="297.3" stroke="#2a2a2a" stroke-width="1.1" stroke-linecap="butt"/>
<line x1="162.5" y1="319.2" x2="168.5" y2="319.2" stroke="#2a2a2a" stroke-width="1.1" stroke-linecap="butt"/>
<line x1="165.5" y1="345" x2="165.5" y2="357.3" stroke="#303030" stroke-width="1" stroke-linecap="butt"/>
<line x1="162.5" y1="345" x2="168.5" y2="345" stroke="#2a2a2a" stroke-width="1.1" stroke-linecap="butt"/>
<rect x="114.52" y="303.3" width="3.8" height="3.4" fill="#c4c4c4" stroke="#6a6a6a" stroke-width="0.7"/>
<rect x="139.16" y="299.1" width="3.8" height="3.4" fill="#c4c4c4" stroke="#6a6a6a" stroke-width="0.7"/>
<rect x="163.8" y="306.1" width="3.8" height="3.4" fill="#c4c4c4" stroke="#6a6a6a" stroke-width="0.7"/>
<text x="171.3" y="306.8" font-size="7.8" fill="#c8102e">ns</text>
<polygon points="173.5,313.35 174.03,314.07 174.88,314.35 174.35,315.08 174.35,315.97 173.5,315.7 172.65,315.97 172.65,315.08 172.12,314.35 172.97,314.07" fill="#c8102e"/>
<polygon points="176.8,313.35 177.33,314.07 178.18,314.35 177.65,315.08 177.65,315.97 176.8,315.7 175.95,315.97 175.95,315.08 175.42,314.35 176.27,314.07" fill="#c8102e"/>
<polygon points="180.1,313.35 180.63,314.07 181.48,314.35 180.95,315.08 180.95,315.97 180.1,315.7 179.25,315.97 179.25,315.08 178.72,314.35 179.57,314.07" fill="#c8102e"/>
<polygon points="173.5,356.55 174.03,357.27 174.88,357.55 174.35,358.28 174.35,359.17 173.5,358.9 172.65,359.17 172.65,358.28 172.12,357.55 172.97,357.27" fill="#c8102e"/>
<polygon points="176.8,356.55 177.33,357.27 178.18,357.55 177.65,358.28 177.65,359.17 176.8,358.9 175.95,359.17 175.95,358.28 175.42,357.55 176.27,357.27" fill="#c8102e"/>
<text x="305.5" y="280.6" font-size="9.5" fill="#231f20" textLength="20.5" lengthAdjust="spacingAndGlyphs" text-anchor="middle" stroke="#231f20" stroke-width="0.22">MCV</text>
<text x="220.3" y="325.2" font-size="9" fill="#231f20" transform="rotate(-90 220.3 325.2)" text-anchor="middle" stroke="#231f20" stroke-width="0.22">fL</text>
<line x1="241.2" y1="281.2" x2="241.2" y2="370.4" stroke="#231f20" stroke-width="1.25" stroke-linecap="butt"/>
<line x1="239.4" y1="367.66" x2="241.2" y2="367.66" stroke="#231f20" stroke-width="0.9" stroke-linecap="butt"/>
<line x1="239.4" y1="363.48" x2="241.2" y2="363.48" stroke="#231f20" stroke-width="0.9" stroke-linecap="butt"/>
<line x1="239.4" y1="355.12" x2="241.2" y2="355.12" stroke="#231f20" stroke-width="0.9" stroke-linecap="butt"/>
<line x1="239.4" y1="350.94" x2="241.2" y2="350.94" stroke="#231f20" stroke-width="0.9" stroke-linecap="butt"/>
<line x1="239.4" y1="346.76" x2="241.2" y2="346.76" stroke="#231f20" stroke-width="0.9" stroke-linecap="butt"/>
<line x1="239.4" y1="342.58" x2="241.2" y2="342.58" stroke="#231f20" stroke-width="0.9" stroke-linecap="butt"/>
<line x1="239.4" y1="334.22" x2="241.2" y2="334.22" stroke="#231f20" stroke-width="0.9" stroke-linecap="butt"/>
<line x1="239.4" y1="330.04" x2="241.2" y2="330.04" stroke="#231f20" stroke-width="0.9" stroke-linecap="butt"/>
<line x1="239.4" y1="325.86" x2="241.2" y2="325.86" stroke="#231f20" stroke-width="0.9" stroke-linecap="butt"/>
<line x1="239.4" y1="321.68" x2="241.2" y2="321.68" stroke="#231f20" stroke-width="0.9" stroke-linecap="butt"/>
<line x1="239.4" y1="313.32" x2="241.2" y2="313.32" stroke="#231f20" stroke-width="0.9" stroke-linecap="butt"/>
<line x1="239.4" y1="309.14" x2="241.2" y2="309.14" stroke="#231f20" stroke-width="0.9" stroke-linecap="butt"/>
<line x1="239.4" y1="304.96" x2="241.2" y2="304.96" stroke="#231f20" stroke-width="0.9" stroke-linecap="butt"/>
<line x1="239.4" y1="300.78" x2="241.2" y2="300.78" stroke="#231f20" stroke-width="0.9" stroke-linecap="butt"/>
<line x1="239.4" y1="292.42" x2="241.2" y2="292.42" stroke="#231f20" stroke-width="0.9" stroke-linecap="butt"/>
<line x1="239.4" y1="288.24" x2="241.2" y2="288.24" stroke="#231f20" stroke-width="0.9" stroke-linecap="butt"/>
<line x1="239.4" y1="284.06" x2="241.2" y2="284.06" stroke="#231f20" stroke-width="0.9" stroke-linecap="butt"/>
<line x1="238" y1="359.3" x2="241.2" y2="359.3" stroke="#231f20" stroke-width="0.9" stroke-linecap="butt"/>
<text x="234.8" y="362" font-size="8.2" fill="#231f20" textLength="7.9" lengthAdjust="spacingAndGlyphs" text-anchor="end" stroke="#231f20" stroke-width="0.22">40</text>
<line x1="238" y1="338.4" x2="241.2" y2="338.4" stroke="#231f20" stroke-width="0.9" stroke-linecap="butt"/>
<text x="234.8" y="341" font-size="8.2" fill="#231f20" textLength="7.9" lengthAdjust="spacingAndGlyphs" text-anchor="end" stroke="#231f20" stroke-width="0.22">50</text>
<line x1="238" y1="317.5" x2="241.2" y2="317.5" stroke="#231f20" stroke-width="0.9" stroke-linecap="butt"/>
<text x="234.8" y="320" font-size="8.2" fill="#231f20" textLength="7.9" lengthAdjust="spacingAndGlyphs" text-anchor="end" stroke="#231f20" stroke-width="0.22">60</text>
<line x1="238" y1="296.6" x2="241.2" y2="296.6" stroke="#231f20" stroke-width="0.9" stroke-linecap="butt"/>
<text x="234.8" y="299" font-size="8.2" fill="#231f20" textLength="7.9" lengthAdjust="spacingAndGlyphs" text-anchor="end" stroke="#231f20" stroke-width="0.22">70</text>
<line x1="240.6" y1="369.8" x2="370" y2="369.8" stroke="#231f20" stroke-width="1.25" stroke-linecap="butt"/>
<line x1="241.2" y1="369.8" x2="241.2" y2="371.8" stroke="#231f20" stroke-width="0.9" stroke-linecap="butt"/>
<text x="241.2" y="381.5" font-size="8.2" fill="#231f20" textLength="3.8" lengthAdjust="spacingAndGlyphs" text-anchor="middle" stroke="#231f20" stroke-width="0.22">0</text>
<line x1="265.68" y1="369.8" x2="265.68" y2="371.8" stroke="#231f20" stroke-width="0.9" stroke-linecap="butt"/>
<text x="265.68" y="381.5" font-size="8.2" fill="#231f20" textLength="3.8" lengthAdjust="spacingAndGlyphs" text-anchor="middle" stroke="#231f20" stroke-width="0.22">4</text>
<line x1="290.16" y1="369.8" x2="290.16" y2="371.8" stroke="#231f20" stroke-width="0.9" stroke-linecap="butt"/>
<text x="290.16" y="381.5" font-size="8.2" fill="#231f20" textLength="3.8" lengthAdjust="spacingAndGlyphs" text-anchor="middle" stroke="#231f20" stroke-width="0.22">8</text>
<line x1="314.64" y1="369.8" x2="314.64" y2="371.8" stroke="#231f20" stroke-width="0.9" stroke-linecap="butt"/>
<text x="314.64" y="381.5" font-size="8.2" fill="#231f20" textLength="7.9" lengthAdjust="spacingAndGlyphs" text-anchor="middle" stroke="#231f20" stroke-width="0.22">12</text>
<line x1="339.12" y1="369.8" x2="339.12" y2="371.8" stroke="#231f20" stroke-width="0.9" stroke-linecap="butt"/>
<text x="339.12" y="381.5" font-size="8.2" fill="#231f20" textLength="7.9" lengthAdjust="spacingAndGlyphs" text-anchor="middle" stroke="#231f20" stroke-width="0.22">16</text>
<line x1="363.6" y1="369.8" x2="363.6" y2="371.8" stroke="#231f20" stroke-width="0.9" stroke-linecap="butt"/>
<text x="363.6" y="381.5" font-size="8.2" fill="#231f20" textLength="7.9" lengthAdjust="spacingAndGlyphs" text-anchor="middle" stroke="#231f20" stroke-width="0.22">20</text>
<text x="302.3" y="394" font-size="9.6" fill="#231f20" textLength="21.8" lengthAdjust="spacingAndGlyphs" text-anchor="middle" stroke="#231f20" stroke-width="0.22">Weeks</text>
<polyline points="265.68,353.24 290.16,344.46 314.64,346.76 339.12,358.05 363.6,356.17" fill="none" stroke="#2d6399" stroke-width="1.15" stroke-linejoin="round"/>
<polyline points="265.68,349.69 290.16,341.54 314.64,341.33 339.12,354.28 363.6,354.28" fill="none" stroke="#c8102e" stroke-width="1.15" stroke-linejoin="round"/>
<polyline points="265.68,347.6 290.16,334.22 314.64,339.44 339.12,349.27 363.6,345.09" fill="none" stroke="#c8102e" stroke-width="1.15" stroke-dasharray="3.2,2.2" stroke-linejoin="round"/>
<polyline points="265.68,359.72 290.16,333.59 314.64,302.24 339.12,299.53 363.6,285.11" fill="none" stroke="#c8102e" stroke-width="1.15" stroke-linejoin="round"/>
<rect x="263.23" y="350.79" width="4.9" height="4.9" fill="#134e80"/>
<rect x="287.71" y="342.01" width="4.9" height="4.9" fill="#134e80"/>
<rect x="312.19" y="344.31" width="4.9" height="4.9" fill="#134e80"/>
<rect x="336.67" y="355.6" width="4.9" height="4.9" fill="#134e80"/>
<rect x="361.15" y="353.72" width="4.9" height="4.9" fill="#134e80"/>
<polygon points="265.68,346.69 268.38,351.29 262.98,351.29" fill="#c8102e"/>
<polygon points="290.16,338.54 292.86,343.14 287.46,343.14" fill="#c8102e"/>
<polygon points="314.64,338.33 317.34,342.93 311.94,342.93" fill="#c8102e"/>
<polygon points="339.12,351.28 341.82,355.88 336.42,355.88" fill="#c8102e"/>
<polygon points="363.6,351.28 366.3,355.88 360.9,355.88" fill="#c8102e"/>
<polygon points="265.68,344.6 268.38,349.2 262.98,349.2" fill="#c8102e"/>
<polygon points="290.16,331.22 292.86,335.82 287.46,335.82" fill="#c8102e"/>
<polygon points="314.64,336.44 317.34,341.05 311.94,341.05" fill="#c8102e"/>
<polygon points="339.12,346.27 341.82,350.87 336.42,350.87" fill="#c8102e"/>
<polygon points="363.6,342.09 366.3,346.69 360.9,346.69" fill="#c8102e"/>
<rect x="263.23" y="357.27" width="4.9" height="4.9" fill="#c8102e"/>
<rect x="287.71" y="331.14" width="4.9" height="4.9" fill="#c8102e"/>
<rect x="312.19" y="299.79" width="4.9" height="4.9" fill="#c8102e"/>
<rect x="336.67" y="297.08" width="4.9" height="4.9" fill="#c8102e"/>
<rect x="361.15" y="282.66" width="4.9" height="4.9" fill="#c8102e"/>
<line x1="265.5" y1="344.4" x2="265.5" y2="353" stroke="#303030" stroke-width="1" stroke-linecap="butt"/>
<line x1="262.5" y1="344.4" x2="268.5" y2="344.4" stroke="#2a2a2a" stroke-width="1.1" stroke-linecap="butt"/>
<line x1="290.5" y1="315.5" x2="290.5" y2="351.9" stroke="#303030" stroke-width="1" stroke-linecap="butt"/>
<line x1="287.5" y1="315.5" x2="293.5" y2="315.5" stroke="#2a2a2a" stroke-width="1.1" stroke-linecap="butt"/>
<line x1="287.5" y1="351.9" x2="293.5" y2="351.9" stroke="#2a2a2a" stroke-width="1.1" stroke-linecap="butt"/>
<line x1="314.5" y1="290.5" x2="314.5" y2="314.1" stroke="#303030" stroke-width="1" stroke-linecap="butt"/>
<line x1="311.5" y1="290.5" x2="317.5" y2="290.5" stroke="#2a2a2a" stroke-width="1.1" stroke-linecap="butt"/>
<line x1="311.5" y1="314.1" x2="317.5" y2="314.1" stroke="#2a2a2a" stroke-width="1.1" stroke-linecap="butt"/>
<line x1="314.5" y1="337.8" x2="314.5" y2="350.9" stroke="#303030" stroke-width="1" stroke-linecap="butt"/>
<line x1="311.5" y1="337.8" x2="317.5" y2="337.8" stroke="#2a2a2a" stroke-width="1.1" stroke-linecap="butt"/>
<line x1="311.5" y1="350.9" x2="317.5" y2="350.9" stroke="#2a2a2a" stroke-width="1.1" stroke-linecap="butt"/>
<line x1="339.5" y1="289.3" x2="339.5" y2="310.7" stroke="#303030" stroke-width="1" stroke-linecap="butt"/>
<line x1="336.5" y1="289.3" x2="342.5" y2="289.3" stroke="#2a2a2a" stroke-width="1.1" stroke-linecap="butt"/>
<line x1="336.5" y1="310.7" x2="342.5" y2="310.7" stroke="#2a2a2a" stroke-width="1.1" stroke-linecap="butt"/>
<line x1="339.5" y1="348.5" x2="339.5" y2="360.4" stroke="#303030" stroke-width="1" stroke-linecap="butt"/>
<line x1="336.5" y1="360.4" x2="342.5" y2="360.4" stroke="#2a2a2a" stroke-width="1.1" stroke-linecap="butt"/>
<line x1="363.5" y1="285" x2="363.5" y2="300.4" stroke="#303030" stroke-width="1" stroke-linecap="butt"/>
<line x1="360.5" y1="300.4" x2="366.5" y2="300.4" stroke="#2a2a2a" stroke-width="1.1" stroke-linecap="butt"/>
<line x1="363.5" y1="349.6" x2="363.5" y2="356" stroke="#303030" stroke-width="1" stroke-linecap="butt"/>
<line x1="360.5" y1="349.6" x2="366.5" y2="349.6" stroke="#2a2a2a" stroke-width="1.1" stroke-linecap="butt"/>
<polygon points="372.4,284.55 372.93,285.27 373.78,285.55 373.25,286.28 373.25,287.17 372.4,286.9 371.55,287.17 371.55,286.28 371.02,285.55 371.87,285.27" fill="#c8102e"/>
<polygon points="375.7,284.55 376.23,285.27 377.08,285.55 376.55,286.28 376.55,287.17 375.7,286.9 374.85,287.17 374.85,286.28 374.32,285.55 375.17,285.27" fill="#c8102e"/>
<polygon points="372.4,343.95 372.93,344.67 373.78,344.95 373.25,345.68 373.25,346.57 372.4,346.3 371.55,346.57 371.55,345.68 371.02,344.95 371.87,344.67" fill="#c8102e"/>
<polygon points="375.7,343.95 376.23,344.67 377.08,344.95 376.55,345.68 376.55,346.57 375.7,346.3 374.85,346.57 374.85,345.68 374.32,344.95 375.17,344.67" fill="#c8102e"/>
<polygon points="379,343.95 379.53,344.67 380.38,344.95 379.85,345.68 379.85,346.57 379,346.3 378.15,346.57 378.15,345.68 377.62,344.95 378.47,344.67" fill="#c8102e"/>
<polygon points="372.4,352.15 372.93,352.87 373.78,353.15 373.25,353.88 373.25,354.77 372.4,354.5 371.55,354.77 371.55,353.88 371.02,353.15 371.87,352.87" fill="#c8102e"/>
<line x1="391.1" y1="291.5" x2="403.9" y2="291.5" stroke="#2d6399" stroke-width="1.15" stroke-linecap="butt"/>
<rect x="394.9" y="289" width="5" height="5" fill="#134e80"/>
<text x="407.6" y="294.3" font-size="8.4" fill="#231f20" textLength="43" lengthAdjust="spacingAndGlyphs" stroke="#231f20" stroke-width="0.22">100% Mx ctrl</text>
<line x1="391.1" y1="304.7" x2="403.9" y2="304.7" stroke="#c8102e" stroke-width="1.15" stroke-linecap="butt"/>
<polygon points="397.6,302 400.1,306.6 395.1,306.6" fill="#c8102e"/>
<text x="407.6" y="307.5" font-size="8.4" fill="#231f20" textLength="65.5" lengthAdjust="spacingAndGlyphs" stroke="#231f20" stroke-width="0.22">50:50 Flvcr-del:GFP</text>
<line x1="391.1" y1="317.8" x2="393.7" y2="317.8" stroke="#c8102e" stroke-width="1.15" stroke-linecap="butt"/>
<line x1="401.4" y1="317.8" x2="403.9" y2="317.8" stroke="#c8102e" stroke-width="1.15" stroke-linecap="butt"/>
<polygon points="397.6,315.1 400.1,319.7 395.1,319.7" fill="#c8102e"/>
<text x="407.6" y="320.6" font-size="8.4" fill="#231f20" textLength="65.5" lengthAdjust="spacingAndGlyphs" stroke="#231f20" stroke-width="0.22">80:20 Flvcr-del:GFP</text>
<line x1="391.1" y1="330.2" x2="403.9" y2="330.2" stroke="#c8102e" stroke-width="1.15" stroke-linecap="butt"/>
<rect x="394.9" y="327.7" width="5" height="5" fill="#c8102e"/>
<text x="407.6" y="333" font-size="8.4" fill="#231f20" textLength="49" lengthAdjust="spacingAndGlyphs" stroke="#231f20" stroke-width="0.22">100% Flvcr-del</text>
<text x="73.85" y="420.6" font-size="9.8" fill="#231f20" textLength="17.5" lengthAdjust="spacingAndGlyphs" text-anchor="middle" stroke="#231f20" stroke-width="0.22">RBC</text>
<text x="17.3" y="471.7" font-size="9.6" fill="#231f20" textLength="37.5" lengthAdjust="spacingAndGlyphs" transform="rotate(-90 17.3 471.7)" text-anchor="middle" stroke="#231f20" stroke-width="0.22">% Recovery</text>
<line x1="42.5" y1="421.2" x2="42.5" y2="513.6" stroke="#231f20" stroke-width="1.25" stroke-linecap="butt"/>
<line x1="40.4" y1="506.13" x2="42.5" y2="506.13" stroke="#231f20" stroke-width="0.9" stroke-linecap="butt"/>
<line x1="40.4" y1="492.4" x2="42.5" y2="492.4" stroke="#231f20" stroke-width="0.9" stroke-linecap="butt"/>
<line x1="40.4" y1="478.67" x2="42.5" y2="478.67" stroke="#231f20" stroke-width="0.9" stroke-linecap="butt"/>
<line x1="40.4" y1="464.93" x2="42.5" y2="464.93" stroke="#231f20" stroke-width="0.9" stroke-linecap="butt"/>
<line x1="40.4" y1="451.2" x2="42.5" y2="451.2" stroke="#231f20" stroke-width="0.9" stroke-linecap="butt"/>
<line x1="40.4" y1="437.47" x2="42.5" y2="437.47" stroke="#231f20" stroke-width="0.9" stroke-linecap="butt"/>
<line x1="40.4" y1="423.73" x2="42.5" y2="423.73" stroke="#231f20" stroke-width="0.9" stroke-linecap="butt"/>
<line x1="39.3" y1="513" x2="42.5" y2="513" stroke="#231f20" stroke-width="0.9" stroke-linecap="butt"/>
<text x="36.1" y="515" font-size="8.2" fill="#231f20" textLength="3.8" lengthAdjust="spacingAndGlyphs" text-anchor="end" stroke="#231f20" stroke-width="0.22">0</text>
<line x1="39.3" y1="499.27" x2="42.5" y2="499.27" stroke="#231f20" stroke-width="0.9" stroke-linecap="butt"/>
<text x="36.1" y="502" font-size="8.2" fill="#231f20" textLength="7.9" lengthAdjust="spacingAndGlyphs" text-anchor="end" stroke="#231f20" stroke-width="0.22">20</text>
<line x1="39.3" y1="485.53" x2="42.5" y2="485.53" stroke="#231f20" stroke-width="0.9" stroke-linecap="butt"/>
<text x="36.1" y="488" font-size="8.2" fill="#231f20" textLength="7.9" lengthAdjust="spacingAndGlyphs" text-anchor="end" stroke="#231f20" stroke-width="0.22">40</text>
<line x1="39.3" y1="471.8" x2="42.5" y2="471.8" stroke="#231f20" stroke-width="0.9" stroke-linecap="butt"/>
<text x="36.1" y="474" font-size="8.2" fill="#231f20" textLength="7.9" lengthAdjust="spacingAndGlyphs" text-anchor="end" stroke="#231f20" stroke-width="0.22">60</text>
<line x1="39.3" y1="458.07" x2="42.5" y2="458.07" stroke="#231f20" stroke-width="0.9" stroke-linecap="butt"/>
<text x="36.1" y="460" font-size="8.2" fill="#231f20" textLength="7.9" lengthAdjust="spacingAndGlyphs" text-anchor="end" stroke="#231f20" stroke-width="0.22">80</text>
<line x1="39.3" y1="444.33" x2="42.5" y2="444.33" stroke="#231f20" stroke-width="0.9" stroke-linecap="butt"/>
<text x="36.1" y="447" font-size="8.2" fill="#231f20" textLength="12" lengthAdjust="spacingAndGlyphs" text-anchor="end" stroke="#231f20" stroke-width="0.22">100</text>
<line x1="39.3" y1="430.6" x2="42.5" y2="430.6" stroke="#231f20" stroke-width="0.9" stroke-linecap="butt"/>
<text x="36.1" y="433" font-size="8.2" fill="#231f20" textLength="12" lengthAdjust="spacingAndGlyphs" text-anchor="end" stroke="#231f20" stroke-width="0.22">120</text>
<line x1="41.9" y1="513" x2="105.1" y2="513" stroke="#231f20" stroke-width="1.25" stroke-linecap="butt"/>
<rect x="43.6" y="453.26" width="12.3" height="59.74" fill="#c8102e"/>
<line x1="49.75" y1="447.77" x2="49.75" y2="453.26" stroke="#231f20" stroke-width="1.2" stroke-linecap="butt"/>
<line x1="46.75" y1="447.77" x2="52.75" y2="447.77" stroke="#231f20" stroke-width="1.1" stroke-linecap="butt"/>
<rect x="58.3" y="454.63" width="12.3" height="58.37" fill="#e28494"/>
<line x1="64.45" y1="452.16" x2="64.45" y2="454.63" stroke="#231f20" stroke-width="1.2" stroke-linecap="butt"/>
<line x1="61.45" y1="452.16" x2="67.45" y2="452.16" stroke="#231f20" stroke-width="1.1" stroke-linecap="butt"/>
<rect x="73.4" y="469.05" width="12.3" height="43.95" fill="#134e80"/>
<line x1="79.55" y1="447.77" x2="79.55" y2="469.05" stroke="#231f20" stroke-width="1.2" stroke-linecap="butt"/>
<line x1="76.55" y1="447.77" x2="82.55" y2="447.77" stroke="#231f20" stroke-width="1.1" stroke-linecap="butt"/>
<rect x="88.4" y="485.53" width="12.3" height="27.47" fill="#88a6c4"/>
<line x1="94.55" y1="471.39" x2="94.55" y2="485.53" stroke="#231f20" stroke-width="1.2" stroke-linecap="butt"/>
<line x1="91.55" y1="471.39" x2="97.55" y2="471.39" stroke="#231f20" stroke-width="1.1" stroke-linecap="butt"/>
<line x1="41.6" y1="444.33" x2="102.7" y2="444.33" stroke="#111" stroke-width="0.95" stroke-dasharray="3.3,1.95" stroke-linecap="butt"/>
<text x="180.15" y="420.6" font-size="9.8" fill="#231f20" textLength="20.7" lengthAdjust="spacingAndGlyphs" text-anchor="middle" stroke="#231f20" stroke-width="0.22">MCV</text>
<text x="123.9" y="468.5" font-size="10.3" fill="#231f20" textLength="38.7" lengthAdjust="spacingAndGlyphs" transform="rotate(-90 123.9 468.5)" text-anchor="middle" stroke="#231f20" stroke-width="0.22">% of control</text>
<line x1="148.7" y1="421.2" x2="148.7" y2="513.6" stroke="#231f20" stroke-width="1.25" stroke-linecap="butt"/>
<line x1="146.6" y1="501.79" x2="148.7" y2="501.79" stroke="#231f20" stroke-width="0.9" stroke-linecap="butt"/>
<line x1="146.6" y1="479.36" x2="148.7" y2="479.36" stroke="#231f20" stroke-width="0.9" stroke-linecap="butt"/>
<line x1="146.6" y1="456.94" x2="148.7" y2="456.94" stroke="#231f20" stroke-width="0.9" stroke-linecap="butt"/>
<line x1="146.6" y1="434.51" x2="148.7" y2="434.51" stroke="#231f20" stroke-width="0.9" stroke-linecap="butt"/>
<line x1="145.5" y1="513" x2="148.7" y2="513" stroke="#231f20" stroke-width="0.9" stroke-linecap="butt"/>
<text x="142.3" y="515" font-size="8.2" fill="#231f20" textLength="3.8" lengthAdjust="spacingAndGlyphs" text-anchor="end" stroke="#231f20" stroke-width="0.22">0</text>
<line x1="145.5" y1="490.57" x2="148.7" y2="490.57" stroke="#231f20" stroke-width="0.9" stroke-linecap="butt"/>
<text x="142.3" y="493" font-size="8.2" fill="#231f20" textLength="7.9" lengthAdjust="spacingAndGlyphs" text-anchor="end" stroke="#231f20" stroke-width="0.22">50</text>
<line x1="145.5" y1="468.15" x2="148.7" y2="468.15" stroke="#231f20" stroke-width="0.9" stroke-linecap="butt"/>
<text x="142.3" y="470" font-size="8.2" fill="#231f20" textLength="12" lengthAdjust="spacingAndGlyphs" text-anchor="end" stroke="#231f20" stroke-width="0.22">100</text>
<line x1="145.5" y1="445.73" x2="148.7" y2="445.73" stroke="#231f20" stroke-width="0.9" stroke-linecap="butt"/>
<text x="142.3" y="448" font-size="8.2" fill="#231f20" textLength="12" lengthAdjust="spacingAndGlyphs" text-anchor="end" stroke="#231f20" stroke-width="0.22">150</text>
<line x1="145.5" y1="423.3" x2="148.7" y2="423.3" stroke="#231f20" stroke-width="0.9" stroke-linecap="butt"/>
<text x="142.3" y="426" font-size="8.2" fill="#231f20" textLength="12" lengthAdjust="spacingAndGlyphs" text-anchor="end" stroke="#231f20" stroke-width="0.22">200</text>
<line x1="148.1" y1="513" x2="212.2" y2="513" stroke="#231f20" stroke-width="1.25" stroke-linecap="butt"/>
<rect x="149.8" y="464.74" width="12.3" height="48.26" fill="#c8102e"/>
<line x1="155.95" y1="460.97" x2="155.95" y2="464.74" stroke="#231f20" stroke-width="1.2" stroke-linecap="butt"/>
<line x1="152.95" y1="460.97" x2="158.95" y2="460.97" stroke="#231f20" stroke-width="1.1" stroke-linecap="butt"/>
<rect x="164.6" y="462.1" width="12.3" height="50.9" fill="#e28494"/>
<line x1="170.75" y1="460.7" x2="170.75" y2="462.1" stroke="#231f20" stroke-width="1.2" stroke-linecap="butt"/>
<line x1="167.75" y1="460.7" x2="173.75" y2="460.7" stroke="#231f20" stroke-width="1.1" stroke-linecap="butt"/>
<rect x="179.4" y="454.69" width="12.3" height="58.31" fill="#134e80"/>
<line x1="185.55" y1="442.14" x2="185.55" y2="454.69" stroke="#231f20" stroke-width="1.2" stroke-linecap="butt"/>
<line x1="182.55" y1="442.14" x2="188.55" y2="442.14" stroke="#231f20" stroke-width="1.1" stroke-linecap="butt"/>
<rect x="194.3" y="438.73" width="12.3" height="74.27" fill="#88a6c4"/>
<line x1="200.45" y1="429.58" x2="200.45" y2="438.73" stroke="#231f20" stroke-width="1.2" stroke-linecap="butt"/>
<line x1="197.45" y1="429.58" x2="203.45" y2="429.58" stroke="#231f20" stroke-width="1.1" stroke-linecap="butt"/>
<line x1="147.8" y1="468.15" x2="212" y2="468.15" stroke="#111" stroke-width="0.95" stroke-dasharray="3.3,1.95" stroke-linecap="butt"/>
<text x="285.9" y="420.6" font-size="9.8" fill="#231f20" textLength="11.8" lengthAdjust="spacingAndGlyphs" text-anchor="middle" stroke="#231f20" stroke-width="0.22">Hb</text>
<text x="229.2" y="471.7" font-size="9.6" fill="#231f20" textLength="37.5" lengthAdjust="spacingAndGlyphs" transform="rotate(-90 229.2 471.7)" text-anchor="middle" stroke="#231f20" stroke-width="0.22">% Recovery</text>
<line x1="254.5" y1="421.2" x2="254.5" y2="513.6" stroke="#231f20" stroke-width="1.25" stroke-linecap="butt"/>
<line x1="252.4" y1="506.13" x2="254.5" y2="506.13" stroke="#231f20" stroke-width="0.9" stroke-linecap="butt"/>
<line x1="252.4" y1="492.4" x2="254.5" y2="492.4" stroke="#231f20" stroke-width="0.9" stroke-linecap="butt"/>
<line x1="252.4" y1="478.67" x2="254.5" y2="478.67" stroke="#231f20" stroke-width="0.9" stroke-linecap="butt"/>
<line x1="252.4" y1="464.93" x2="254.5" y2="464.93" stroke="#231f20" stroke-width="0.9" stroke-linecap="butt"/>
<line x1="252.4" y1="451.2" x2="254.5" y2="451.2" stroke="#231f20" stroke-width="0.9" stroke-linecap="butt"/>
<line x1="252.4" y1="437.47" x2="254.5" y2="437.47" stroke="#231f20" stroke-width="0.9" stroke-linecap="butt"/>
<line x1="252.4" y1="423.73" x2="254.5" y2="423.73" stroke="#231f20" stroke-width="0.9" stroke-linecap="butt"/>
<line x1="251.3" y1="513" x2="254.5" y2="513" stroke="#231f20" stroke-width="0.9" stroke-linecap="butt"/>
<text x="248.1" y="515" font-size="8.2" fill="#231f20" textLength="3.8" lengthAdjust="spacingAndGlyphs" text-anchor="end" stroke="#231f20" stroke-width="0.22">0</text>
<line x1="251.3" y1="499.27" x2="254.5" y2="499.27" stroke="#231f20" stroke-width="0.9" stroke-linecap="butt"/>
<text x="248.1" y="502" font-size="8.2" fill="#231f20" textLength="7.9" lengthAdjust="spacingAndGlyphs" text-anchor="end" stroke="#231f20" stroke-width="0.22">20</text>
<line x1="251.3" y1="485.53" x2="254.5" y2="485.53" stroke="#231f20" stroke-width="0.9" stroke-linecap="butt"/>
<text x="248.1" y="488" font-size="8.2" fill="#231f20" textLength="7.9" lengthAdjust="spacingAndGlyphs" text-anchor="end" stroke="#231f20" stroke-width="0.22">40</text>
<line x1="251.3" y1="471.8" x2="254.5" y2="471.8" stroke="#231f20" stroke-width="0.9" stroke-linecap="butt"/>
<text x="248.1" y="474" font-size="8.2" fill="#231f20" textLength="7.9" lengthAdjust="spacingAndGlyphs" text-anchor="end" stroke="#231f20" stroke-width="0.22">60</text>
<line x1="251.3" y1="458.07" x2="254.5" y2="458.07" stroke="#231f20" stroke-width="0.9" stroke-linecap="butt"/>
<text x="248.1" y="460" font-size="8.2" fill="#231f20" textLength="7.9" lengthAdjust="spacingAndGlyphs" text-anchor="end" stroke="#231f20" stroke-width="0.22">80</text>
<line x1="251.3" y1="444.33" x2="254.5" y2="444.33" stroke="#231f20" stroke-width="0.9" stroke-linecap="butt"/>
<text x="248.1" y="447" font-size="8.2" fill="#231f20" textLength="12" lengthAdjust="spacingAndGlyphs" text-anchor="end" stroke="#231f20" stroke-width="0.22">100</text>
<line x1="251.3" y1="430.6" x2="254.5" y2="430.6" stroke="#231f20" stroke-width="0.9" stroke-linecap="butt"/>
<text x="248.1" y="433" font-size="8.2" fill="#231f20" textLength="12" lengthAdjust="spacingAndGlyphs" text-anchor="end" stroke="#231f20" stroke-width="0.22">120</text>
<line x1="253.9" y1="513" x2="317.3" y2="513" stroke="#231f20" stroke-width="1.25" stroke-linecap="butt"/>
<rect x="255.5" y="450.51" width="12.3" height="62.49" fill="#c8102e"/>
<line x1="261.65" y1="444.33" x2="261.65" y2="450.51" stroke="#231f20" stroke-width="1.2" stroke-linecap="butt"/>
<line x1="258.65" y1="444.33" x2="264.65" y2="444.33" stroke="#231f20" stroke-width="1.1" stroke-linecap="butt"/>
<rect x="270.8" y="451.89" width="12.3" height="61.11" fill="#e28494"/>
<line x1="276.95" y1="449.14" x2="276.95" y2="451.89" stroke="#231f20" stroke-width="1.2" stroke-linecap="butt"/>
<line x1="273.95" y1="449.14" x2="279.95" y2="449.14" stroke="#231f20" stroke-width="1.1" stroke-linecap="butt"/>
<rect x="285.6" y="455.32" width="12.3" height="57.68" fill="#134e80"/>
<line x1="291.75" y1="424.08" x2="291.75" y2="455.32" stroke="#231f20" stroke-width="1.2" stroke-linecap="butt"/>
<line x1="288.75" y1="424.08" x2="294.75" y2="424.08" stroke="#231f20" stroke-width="1.1" stroke-linecap="butt"/>
<rect x="300.4" y="468.71" width="12.3" height="44.29" fill="#88a6c4"/>
<line x1="306.55" y1="435.41" x2="306.55" y2="468.71" stroke="#231f20" stroke-width="1.2" stroke-linecap="butt"/>
<line x1="303.55" y1="435.41" x2="309.55" y2="435.41" stroke="#231f20" stroke-width="1.1" stroke-linecap="butt"/>
<line x1="253.6" y1="444.33" x2="315" y2="444.33" stroke="#111" stroke-width="0.95" stroke-dasharray="3.3,1.95" stroke-linecap="butt"/>
<text x="391.85" y="420.6" font-size="9.8" fill="#231f20" textLength="18.1" lengthAdjust="spacingAndGlyphs" text-anchor="middle" stroke="#231f20" stroke-width="0.22">HCT</text>
<text x="335.5" y="471.7" font-size="9.6" fill="#231f20" textLength="37.5" lengthAdjust="spacingAndGlyphs" transform="rotate(-90 335.5 471.7)" text-anchor="middle" stroke="#231f20" stroke-width="0.22">% Recovery</text>
<line x1="360.2" y1="421.2" x2="360.2" y2="513.6" stroke="#231f20" stroke-width="1.25" stroke-linecap="butt"/>
<line x1="358.1" y1="506.13" x2="360.2" y2="506.13" stroke="#231f20" stroke-width="0.9" stroke-linecap="butt"/>
<line x1="358.1" y1="492.4" x2="360.2" y2="492.4" stroke="#231f20" stroke-width="0.9" stroke-linecap="butt"/>
<line x1="358.1" y1="478.67" x2="360.2" y2="478.67" stroke="#231f20" stroke-width="0.9" stroke-linecap="butt"/>
<line x1="358.1" y1="464.93" x2="360.2" y2="464.93" stroke="#231f20" stroke-width="0.9" stroke-linecap="butt"/>
<line x1="358.1" y1="451.2" x2="360.2" y2="451.2" stroke="#231f20" stroke-width="0.9" stroke-linecap="butt"/>
<line x1="358.1" y1="437.47" x2="360.2" y2="437.47" stroke="#231f20" stroke-width="0.9" stroke-linecap="butt"/>
<line x1="358.1" y1="423.73" x2="360.2" y2="423.73" stroke="#231f20" stroke-width="0.9" stroke-linecap="butt"/>
<line x1="357" y1="513" x2="360.2" y2="513" stroke="#231f20" stroke-width="0.9" stroke-linecap="butt"/>
<text x="353.8" y="515" font-size="8.2" fill="#231f20" textLength="3.8" lengthAdjust="spacingAndGlyphs" text-anchor="end" stroke="#231f20" stroke-width="0.22">0</text>
<line x1="357" y1="499.27" x2="360.2" y2="499.27" stroke="#231f20" stroke-width="0.9" stroke-linecap="butt"/>
<text x="353.8" y="502" font-size="8.2" fill="#231f20" textLength="7.9" lengthAdjust="spacingAndGlyphs" text-anchor="end" stroke="#231f20" stroke-width="0.22">20</text>
<line x1="357" y1="485.53" x2="360.2" y2="485.53" stroke="#231f20" stroke-width="0.9" stroke-linecap="butt"/>
<text x="353.8" y="488" font-size="8.2" fill="#231f20" textLength="7.9" lengthAdjust="spacingAndGlyphs" text-anchor="end" stroke="#231f20" stroke-width="0.22">40</text>
<line x1="357" y1="471.8" x2="360.2" y2="471.8" stroke="#231f20" stroke-width="0.9" stroke-linecap="butt"/>
<text x="353.8" y="474" font-size="8.2" fill="#231f20" textLength="7.9" lengthAdjust="spacingAndGlyphs" text-anchor="end" stroke="#231f20" stroke-width="0.22">60</text>
<line x1="357" y1="458.07" x2="360.2" y2="458.07" stroke="#231f20" stroke-width="0.9" stroke-linecap="butt"/>
<text x="353.8" y="460" font-size="8.2" fill="#231f20" textLength="7.9" lengthAdjust="spacingAndGlyphs" text-anchor="end" stroke="#231f20" stroke-width="0.22">80</text>
<line x1="357" y1="444.33" x2="360.2" y2="444.33" stroke="#231f20" stroke-width="0.9" stroke-linecap="butt"/>
<text x="353.8" y="447" font-size="8.2" fill="#231f20" textLength="12" lengthAdjust="spacingAndGlyphs" text-anchor="end" stroke="#231f20" stroke-width="0.22">100</text>
<line x1="357" y1="430.6" x2="360.2" y2="430.6" stroke="#231f20" stroke-width="0.9" stroke-linecap="butt"/>
<text x="353.8" y="433" font-size="8.2" fill="#231f20" textLength="12" lengthAdjust="spacingAndGlyphs" text-anchor="end" stroke="#231f20" stroke-width="0.22">120</text>
<line x1="359.6" y1="513" x2="423.1" y2="513" stroke="#231f20" stroke-width="1.25" stroke-linecap="butt"/>
<rect x="361.3" y="449.35" width="12.3" height="63.65" fill="#c8102e"/>
<line x1="367.45" y1="443.23" x2="367.45" y2="449.35" stroke="#231f20" stroke-width="1.2" stroke-linecap="butt"/>
<line x1="364.45" y1="443.23" x2="370.45" y2="443.23" stroke="#231f20" stroke-width="1.1" stroke-linecap="butt"/>
<rect x="376.3" y="447.77" width="12.3" height="65.23" fill="#e28494"/>
<line x1="382.45" y1="444.47" x2="382.45" y2="447.77" stroke="#231f20" stroke-width="1.2" stroke-linecap="butt"/>
<line x1="379.45" y1="444.47" x2="385.45" y2="444.47" stroke="#231f20" stroke-width="1.1" stroke-linecap="butt"/>
<rect x="391.3" y="460.81" width="12.3" height="52.19" fill="#134e80"/>
<line x1="397.45" y1="430.6" x2="397.45" y2="460.81" stroke="#231f20" stroke-width="1.2" stroke-linecap="butt"/>
<line x1="394.45" y1="430.6" x2="400.45" y2="430.6" stroke="#231f20" stroke-width="1.1" stroke-linecap="butt"/>
<rect x="406.3" y="469.74" width="12.3" height="43.26" fill="#88a6c4"/>
<line x1="412.45" y1="437.12" x2="412.45" y2="469.74" stroke="#231f20" stroke-width="1.2" stroke-linecap="butt"/>
<line x1="409.45" y1="437.12" x2="415.45" y2="437.12" stroke="#231f20" stroke-width="1.1" stroke-linecap="butt"/>
<line x1="359.3" y1="444.33" x2="420.6" y2="444.33" stroke="#111" stroke-width="0.95" stroke-dasharray="3.3,1.95" stroke-linecap="butt"/>
<rect x="428.8" y="422.5" width="10.1" height="7.8" fill="#c8102e"/>
<text x="442.3" y="428.8" font-size="7.6" fill="#231f20" textLength="64.5" lengthAdjust="spacingAndGlyphs" stroke="#231f20" stroke-width="0.22">50:50 Flvcr-del:GFP</text>
<rect x="428.8" y="433.9" width="10.1" height="7.8" fill="#e28494"/>
<text x="442.3" y="439.9" font-size="7.6" fill="#231f20" textLength="64.5" lengthAdjust="spacingAndGlyphs" stroke="#231f20" stroke-width="0.22">80:20 Flvcr-del:GFP</text>
<rect x="428.8" y="445.2" width="10.1" height="7.8" fill="#134e80"/>
<text x="442.3" y="451.2" font-size="7.6" fill="#231f20" textLength="71.2" lengthAdjust="spacingAndGlyphs" stroke="#231f20" stroke-width="0.22">50:50 Rpl11-hap:GFP</text>
<rect x="428.8" y="456.3" width="10.1" height="7.8" fill="#88a6c4"/>
<text x="442.3" y="462.2" font-size="7.6" fill="#231f20" textLength="71.2" lengthAdjust="spacingAndGlyphs" stroke="#231f20" stroke-width="0.22">80:20 Rpl11-hap:GFP</text>
<text x="17.5" y="611.3" font-size="9.5" fill="#231f20" textLength="20.7" lengthAdjust="spacingAndGlyphs" transform="rotate(-90 17.5 611.3)" text-anchor="middle" stroke="#231f20" stroke-width="0.22">% GFP</text>
<line x1="42.5" y1="552" x2="42.5" y2="667.6" stroke="#231f20" stroke-width="1.25" stroke-linecap="butt"/>
<line x1="40.4" y1="656.8" x2="42.5" y2="656.8" stroke="#231f20" stroke-width="0.9" stroke-linecap="butt"/>
<line x1="40.4" y1="636.4" x2="42.5" y2="636.4" stroke="#231f20" stroke-width="0.9" stroke-linecap="butt"/>
<line x1="40.4" y1="616" x2="42.5" y2="616" stroke="#231f20" stroke-width="0.9" stroke-linecap="butt"/>
<line x1="40.4" y1="595.6" x2="42.5" y2="595.6" stroke="#231f20" stroke-width="0.9" stroke-linecap="butt"/>
<line x1="40.4" y1="575.2" x2="42.5" y2="575.2" stroke="#231f20" stroke-width="0.9" stroke-linecap="butt"/>
<line x1="40.4" y1="554.8" x2="42.5" y2="554.8" stroke="#231f20" stroke-width="0.9" stroke-linecap="butt"/>
<line x1="39.3" y1="667" x2="42.5" y2="667" stroke="#231f20" stroke-width="0.9" stroke-linecap="butt"/>
<text x="36.1" y="669" font-size="8.2" fill="#231f20" textLength="4.1" lengthAdjust="spacingAndGlyphs" text-anchor="end" stroke="#231f20" stroke-width="0.22">0</text>
<line x1="39.3" y1="646.6" x2="42.5" y2="646.6" stroke="#231f20" stroke-width="0.9" stroke-linecap="butt"/>
<text x="36.1" y="649" font-size="8.2" fill="#231f20" textLength="8.5" lengthAdjust="spacingAndGlyphs" text-anchor="end" stroke="#231f20" stroke-width="0.22">20</text>
<line x1="39.3" y1="626.2" x2="42.5" y2="626.2" stroke="#231f20" stroke-width="0.9" stroke-linecap="butt"/>
<text x="36.1" y="629" font-size="8.2" fill="#231f20" textLength="8.5" lengthAdjust="spacingAndGlyphs" text-anchor="end" stroke="#231f20" stroke-width="0.22">40</text>
<line x1="39.3" y1="605.8" x2="42.5" y2="605.8" stroke="#231f20" stroke-width="0.9" stroke-linecap="butt"/>
<text x="36.1" y="608" font-size="8.2" fill="#231f20" textLength="8.5" lengthAdjust="spacingAndGlyphs" text-anchor="end" stroke="#231f20" stroke-width="0.22">60</text>
<line x1="39.3" y1="585.4" x2="42.5" y2="585.4" stroke="#231f20" stroke-width="0.9" stroke-linecap="butt"/>
<text x="36.1" y="588" font-size="8.2" fill="#231f20" textLength="8.5" lengthAdjust="spacingAndGlyphs" text-anchor="end" stroke="#231f20" stroke-width="0.22">80</text>
<line x1="39.3" y1="565" x2="42.5" y2="565" stroke="#231f20" stroke-width="0.9" stroke-linecap="butt"/>
<text x="36.1" y="567" font-size="8.2" fill="#231f20" textLength="12.9" lengthAdjust="spacingAndGlyphs" text-anchor="end" stroke="#231f20" stroke-width="0.22">100</text>
<line x1="41.9" y1="667" x2="397.5" y2="667" stroke="#231f20" stroke-width="1.3" stroke-linecap="butt"/>
<line x1="129.6" y1="552.5" x2="129.6" y2="667" stroke="#231f20" stroke-width="1.15" stroke-linecap="butt"/>
<line x1="218.5" y1="552.5" x2="218.5" y2="667" stroke="#231f20" stroke-width="1.15" stroke-linecap="butt"/>
<line x1="305.5" y1="552.5" x2="305.5" y2="667" stroke="#231f20" stroke-width="1.15" stroke-linecap="butt"/>
<line x1="393.5" y1="552.5" x2="393.5" y2="667" stroke="#231f20" stroke-width="1.15" stroke-linecap="butt"/>
<rect x="48.2" y="607.23" width="6.7" height="59.77" fill="#11508a"/>
<line x1="51.55" y1="598.05" x2="51.55" y2="607.23" stroke="#231f20" stroke-width="1.1" stroke-linecap="butt"/>
<line x1="49.55" y1="598.05" x2="53.55" y2="598.05" stroke="#231f20" stroke-width="1.1" stroke-linecap="butt"/>
<rect x="55.88" y="621.71" width="6.7" height="45.29" fill="#c8102e"/>
<line x1="59.23" y1="609.47" x2="59.23" y2="621.71" stroke="#231f20" stroke-width="1.1" stroke-linecap="butt"/>
<line x1="57.23" y1="609.47" x2="61.23" y2="609.47" stroke="#231f20" stroke-width="1.1" stroke-linecap="butt"/>
<rect x="63.56" y="616.51" width="6.7" height="50.49" fill="#5d2670"/>
<line x1="66.91" y1="605.49" x2="66.91" y2="616.51" stroke="#231f20" stroke-width="1.1" stroke-linecap="butt"/>
<line x1="64.91" y1="605.49" x2="68.91" y2="605.49" stroke="#231f20" stroke-width="1.1" stroke-linecap="butt"/>
<rect x="71.24" y="618.75" width="6.7" height="48.25" fill="#3cb54a"/>
<line x1="74.59" y1="610.49" x2="74.59" y2="618.75" stroke="#231f20" stroke-width="1.1" stroke-linecap="butt"/>
<line x1="72.59" y1="610.49" x2="76.59" y2="610.49" stroke="#231f20" stroke-width="1.1" stroke-linecap="butt"/>
<rect x="95.2" y="590.75" width="6.7" height="76.25" fill="#11508a"/>
<line x1="98.55" y1="574.49" x2="98.55" y2="590.75" stroke="#231f20" stroke-width="1.1" stroke-linecap="butt"/>
<line x1="96.55" y1="574.49" x2="100.55" y2="574.49" stroke="#231f20" stroke-width="1.1" stroke-linecap="butt"/>
<rect x="102.88" y="565" width="6.7" height="102" fill="#c8102e"/>
<rect x="110.56" y="592.23" width="6.7" height="74.77" fill="#5d2670"/>
<line x1="113.91" y1="583.26" x2="113.91" y2="592.23" stroke="#231f20" stroke-width="1.1" stroke-linecap="butt"/>
<line x1="111.91" y1="583.26" x2="115.91" y2="583.26" stroke="#231f20" stroke-width="1.1" stroke-linecap="butt"/>
<rect x="118.24" y="570.2" width="6.7" height="96.8" fill="#3cb54a"/>
<line x1="121.59" y1="567.55" x2="121.59" y2="570.2" stroke="#231f20" stroke-width="1.1" stroke-linecap="butt"/>
<line x1="119.59" y1="567.55" x2="123.59" y2="567.55" stroke="#231f20" stroke-width="1.1" stroke-linecap="butt"/>
<rect x="136.2" y="634.97" width="6.7" height="32.03" fill="#11508a"/>
<line x1="139.55" y1="613.76" x2="139.55" y2="634.97" stroke="#231f20" stroke-width="1.1" stroke-linecap="butt"/>
<line x1="137.55" y1="613.76" x2="141.55" y2="613.76" stroke="#231f20" stroke-width="1.1" stroke-linecap="butt"/>
<rect x="143.88" y="652.72" width="6.7" height="14.28" fill="#c8102e"/>
<line x1="147.23" y1="644.56" x2="147.23" y2="652.72" stroke="#231f20" stroke-width="1.1" stroke-linecap="butt"/>
<line x1="145.23" y1="644.56" x2="149.23" y2="644.56" stroke="#231f20" stroke-width="1.1" stroke-linecap="butt"/>
<rect x="151.56" y="646.7" width="6.7" height="20.3" fill="#5d2670"/>
<line x1="154.91" y1="640.79" x2="154.91" y2="646.7" stroke="#231f20" stroke-width="1.1" stroke-linecap="butt"/>
<line x1="152.91" y1="640.79" x2="156.91" y2="640.79" stroke="#231f20" stroke-width="1.1" stroke-linecap="butt"/>
<rect x="159.24" y="638.95" width="6.7" height="28.05" fill="#3cb54a"/>
<line x1="162.59" y1="631.5" x2="162.59" y2="638.95" stroke="#231f20" stroke-width="1.1" stroke-linecap="butt"/>
<line x1="160.59" y1="631.5" x2="164.59" y2="631.5" stroke="#231f20" stroke-width="1.1" stroke-linecap="butt"/>
<rect x="183.2" y="624.98" width="6.7" height="42.02" fill="#11508a"/>
<line x1="186.55" y1="598.25" x2="186.55" y2="624.98" stroke="#231f20" stroke-width="1.1" stroke-linecap="butt"/>
<line x1="184.55" y1="598.25" x2="188.55" y2="598.25" stroke="#231f20" stroke-width="1.1" stroke-linecap="butt"/>
<rect x="190.88" y="565.2" width="6.7" height="101.8" fill="#c8102e"/>
<rect x="198.56" y="617.02" width="6.7" height="49.98" fill="#5d2670"/>
<line x1="201.91" y1="608.25" x2="201.91" y2="617.02" stroke="#231f20" stroke-width="1.1" stroke-linecap="butt"/>
<line x1="199.91" y1="608.25" x2="203.91" y2="608.25" stroke="#231f20" stroke-width="1.1" stroke-linecap="butt"/>
<rect x="206.24" y="573.16" width="6.7" height="93.84" fill="#3cb54a"/>
<line x1="209.59" y1="569.28" x2="209.59" y2="573.16" stroke="#231f20" stroke-width="1.1" stroke-linecap="butt"/>
<line x1="207.59" y1="569.28" x2="211.59" y2="569.28" stroke="#231f20" stroke-width="1.1" stroke-linecap="butt"/>
<rect x="224" y="614.47" width="6.7" height="52.53" fill="#11508a"/>
<line x1="227.35" y1="595.7" x2="227.35" y2="614.47" stroke="#231f20" stroke-width="1.1" stroke-linecap="butt"/>
<line x1="225.35" y1="595.7" x2="229.35" y2="595.7" stroke="#231f20" stroke-width="1.1" stroke-linecap="butt"/>
<rect x="231.68" y="619.06" width="6.7" height="47.94" fill="#c8102e"/>
<line x1="235.03" y1="605.29" x2="235.03" y2="619.06" stroke="#231f20" stroke-width="1.1" stroke-linecap="butt"/>
<line x1="233.03" y1="605.29" x2="237.03" y2="605.29" stroke="#231f20" stroke-width="1.1" stroke-linecap="butt"/>
<rect x="239.36" y="612.02" width="6.7" height="54.98" fill="#5d2670"/>
<line x1="242.71" y1="605.29" x2="242.71" y2="612.02" stroke="#231f20" stroke-width="1.1" stroke-linecap="butt"/>
<line x1="240.71" y1="605.29" x2="244.71" y2="605.29" stroke="#231f20" stroke-width="1.1" stroke-linecap="butt"/>
<rect x="247.04" y="626" width="6.7" height="41" fill="#3cb54a"/>
<line x1="250.39" y1="619.26" x2="250.39" y2="626" stroke="#231f20" stroke-width="1.1" stroke-linecap="butt"/>
<line x1="248.39" y1="619.26" x2="252.39" y2="619.26" stroke="#231f20" stroke-width="1.1" stroke-linecap="butt"/>
<rect x="270.8" y="610.49" width="6.7" height="56.51" fill="#11508a"/>
<line x1="274.15" y1="588.46" x2="274.15" y2="610.49" stroke="#231f20" stroke-width="1.1" stroke-linecap="butt"/>
<line x1="272.15" y1="588.46" x2="276.15" y2="588.46" stroke="#231f20" stroke-width="1.1" stroke-linecap="butt"/>
<rect x="278.48" y="590.5" width="6.7" height="76.5" fill="#c8102e"/>
<line x1="281.83" y1="578.46" x2="281.83" y2="590.5" stroke="#231f20" stroke-width="1.1" stroke-linecap="butt"/>
<line x1="279.83" y1="578.46" x2="283.83" y2="578.46" stroke="#231f20" stroke-width="1.1" stroke-linecap="butt"/>
<rect x="286.16" y="604.98" width="6.7" height="62.02" fill="#5d2670"/>
<line x1="289.51" y1="597.23" x2="289.51" y2="604.98" stroke="#231f20" stroke-width="1.1" stroke-linecap="butt"/>
<line x1="287.51" y1="597.23" x2="291.51" y2="597.23" stroke="#231f20" stroke-width="1.1" stroke-linecap="butt"/>
<rect x="293.84" y="623.24" width="6.7" height="43.76" fill="#3cb54a"/>
<line x1="297.19" y1="619.98" x2="297.19" y2="623.24" stroke="#231f20" stroke-width="1.1" stroke-linecap="butt"/>
<line x1="295.19" y1="619.98" x2="299.19" y2="619.98" stroke="#231f20" stroke-width="1.1" stroke-linecap="butt"/>
<rect x="311.8" y="653.03" width="6.7" height="13.97" fill="#11508a"/>
<line x1="315.15" y1="646.5" x2="315.15" y2="653.03" stroke="#231f20" stroke-width="1.1" stroke-linecap="butt"/>
<line x1="313.15" y1="646.5" x2="317.15" y2="646.5" stroke="#231f20" stroke-width="1.1" stroke-linecap="butt"/>
<rect x="319.48" y="650.48" width="6.7" height="16.52" fill="#c8102e"/>
<line x1="322.83" y1="643.23" x2="322.83" y2="650.48" stroke="#231f20" stroke-width="1.1" stroke-linecap="butt"/>
<line x1="320.83" y1="643.23" x2="324.83" y2="643.23" stroke="#231f20" stroke-width="1.1" stroke-linecap="butt"/>
<rect x="327.16" y="642.21" width="6.7" height="24.79" fill="#5d2670"/>
<line x1="330.51" y1="634.46" x2="330.51" y2="642.21" stroke="#231f20" stroke-width="1.1" stroke-linecap="butt"/>
<line x1="328.51" y1="634.46" x2="332.51" y2="634.46" stroke="#231f20" stroke-width="1.1" stroke-linecap="butt"/>
<rect x="334.84" y="653.54" width="6.7" height="13.46" fill="#3cb54a"/>
<line x1="338.19" y1="650.48" x2="338.19" y2="653.54" stroke="#231f20" stroke-width="1.1" stroke-linecap="butt"/>
<line x1="336.19" y1="650.48" x2="340.19" y2="650.48" stroke="#231f20" stroke-width="1.1" stroke-linecap="butt"/>
<rect x="358.8" y="646.29" width="6.7" height="20.71" fill="#11508a"/>
<line x1="362.15" y1="633.03" x2="362.15" y2="646.29" stroke="#231f20" stroke-width="1.1" stroke-linecap="butt"/>
<line x1="360.15" y1="633.03" x2="364.15" y2="633.03" stroke="#231f20" stroke-width="1.1" stroke-linecap="butt"/>
<rect x="366.48" y="611.21" width="6.7" height="55.79" fill="#c8102e"/>
<line x1="369.83" y1="583.46" x2="369.83" y2="611.21" stroke="#231f20" stroke-width="1.1" stroke-linecap="butt"/>
<line x1="367.83" y1="583.46" x2="371.83" y2="583.46" stroke="#231f20" stroke-width="1.1" stroke-linecap="butt"/>
<rect x="374.16" y="635.48" width="6.7" height="31.52" fill="#5d2670"/>
<line x1="377.51" y1="630.48" x2="377.51" y2="635.48" stroke="#231f20" stroke-width="1.1" stroke-linecap="butt"/>
<line x1="375.51" y1="630.48" x2="379.51" y2="630.48" stroke="#231f20" stroke-width="1.1" stroke-linecap="butt"/>
<rect x="381.84" y="650.99" width="6.7" height="16.01" fill="#3cb54a"/>
<line x1="385.19" y1="648.54" x2="385.19" y2="650.99" stroke="#231f20" stroke-width="1.1" stroke-linecap="butt"/>
<line x1="383.19" y1="648.54" x2="387.19" y2="648.54" stroke="#231f20" stroke-width="1.1" stroke-linecap="butt"/>
<polygon points="106.23,551.95 106.78,553.14 108.08,553.3 107.12,554.19 107.38,555.48 106.23,554.84 105.08,555.48 105.34,554.19 104.38,553.3 105.68,553.14" fill="#111"/>
<polygon points="106.23,556.35 106.78,557.54 108.08,557.7 107.12,558.59 107.38,559.88 106.23,559.24 105.08,559.88 105.34,558.59 104.38,557.7 105.68,557.54" fill="#111"/>
<polygon points="106.23,560.65 106.78,561.84 108.08,562 107.12,562.89 107.38,564.18 106.23,563.54 105.08,564.18 105.34,562.89 104.38,562 105.68,561.84" fill="#111"/>
<polygon points="113.91,568.45 114.46,569.64 115.76,569.8 114.8,570.69 115.06,571.98 113.91,571.34 112.76,571.98 113.02,570.69 112.06,569.8 113.36,569.64" fill="#111"/>
<polygon points="113.91,572.65 114.46,573.84 115.76,574 114.8,574.89 115.06,576.18 113.91,575.54 112.76,576.18 113.02,574.89 112.06,574 113.36,573.84" fill="#111"/>
<polygon points="113.91,576.85 114.46,578.04 115.76,578.2 114.8,579.09 115.06,580.38 113.91,579.74 112.76,580.38 113.02,579.09 112.06,578.2 113.36,578.04" fill="#111"/>
<polygon points="121.59,552.35 122.14,553.54 123.44,553.7 122.48,554.59 122.74,555.88 121.59,555.24 120.44,555.88 120.7,554.59 119.74,553.7 121.04,553.54" fill="#111"/>
<polygon points="121.59,556.85 122.14,558.04 123.44,558.2 122.48,559.09 122.74,560.38 121.59,559.74 120.44,560.38 120.7,559.09 119.74,558.2 121.04,558.04" fill="#111"/>
<polygon points="121.59,561.25 122.14,562.44 123.44,562.6 122.48,563.49 122.74,564.78 121.59,564.14 120.44,564.78 120.7,563.49 119.74,562.6 121.04,562.44" fill="#111"/>
<polygon points="194.23,551.85 194.78,553.04 196.08,553.2 195.12,554.09 195.38,555.38 194.23,554.74 193.08,555.38 193.34,554.09 192.38,553.2 193.68,553.04" fill="#111"/>
<polygon points="194.23,556.15 194.78,557.34 196.08,557.5 195.12,558.39 195.38,559.68 194.23,559.04 193.08,559.68 193.34,558.39 192.38,557.5 193.68,557.34" fill="#111"/>
<polygon points="194.23,560.25 194.78,561.44 196.08,561.6 195.12,562.49 195.38,563.78 194.23,563.14 193.08,563.78 193.34,562.49 192.38,561.6 193.68,561.44" fill="#111"/>
<polygon points="201.91,593.55 202.46,594.74 203.76,594.9 202.8,595.79 203.06,597.08 201.91,596.44 200.76,597.08 201.02,595.79 200.06,594.9 201.36,594.74" fill="#111"/>
<polygon points="201.91,598.05 202.46,599.24 203.76,599.4 202.8,600.29 203.06,601.58 201.91,600.94 200.76,601.58 201.02,600.29 200.06,599.4 201.36,599.24" fill="#111"/>
<polygon points="201.91,602.55 202.46,603.74 203.76,603.9 202.8,604.79 203.06,606.08 201.91,605.44 200.76,606.08 201.02,604.79 200.06,603.9 201.36,603.74" fill="#111"/>
<polygon points="209.59,555.85 210.14,557.04 211.44,557.2 210.48,558.09 210.74,559.38 209.59,558.74 208.44,559.38 208.7,558.09 207.74,557.2 209.04,557.04" fill="#111"/>
<polygon points="209.59,560.25 210.14,561.44 211.44,561.6 210.48,562.49 210.74,563.78 209.59,563.14 208.44,563.78 208.7,562.49 207.74,561.6 209.04,561.44" fill="#111"/>
<polygon points="209.59,564.55 210.14,565.74 211.44,565.9 210.48,566.79 210.74,568.08 209.59,567.44 208.44,568.08 208.7,566.79 207.74,565.9 209.04,565.74" fill="#111"/>
<polygon points="281.83,564.45 282.38,565.64 283.68,565.8 282.72,566.69 282.98,567.98 281.83,567.34 280.68,567.98 280.94,566.69 279.98,565.8 281.28,565.64" fill="#111"/>
<polygon points="281.83,568.65 282.38,569.84 283.68,570 282.72,570.89 282.98,572.18 281.83,571.54 280.68,572.18 280.94,570.89 279.98,570 281.28,569.84" fill="#111"/>
<polygon points="281.83,572.85 282.38,574.04 283.68,574.2 282.72,575.09 282.98,576.38 281.83,575.74 280.68,576.38 280.94,575.09 279.98,574.2 281.28,574.04" fill="#111"/>
<polygon points="369.83,570.75 370.38,571.94 371.68,572.1 370.72,572.99 370.98,574.28 369.83,573.64 368.68,574.28 368.94,572.99 367.98,572.1 369.28,571.94" fill="#111"/>
<polygon points="369.83,575.55 370.38,576.74 371.68,576.9 370.72,577.79 370.98,579.08 369.83,578.44 368.68,579.08 368.94,577.79 367.98,576.9 369.28,576.74" fill="#111"/>
<polygon points="377.51,624.55 378.06,625.74 379.36,625.9 378.4,626.79 378.66,628.08 377.51,627.44 376.36,628.08 376.62,626.79 375.66,625.9 376.96,625.74" fill="#111"/>
<polygon points="385.19,642.85 385.74,644.04 387.04,644.2 386.08,645.09 386.34,646.38 385.19,645.74 384.04,646.38 384.3,645.09 383.34,644.2 384.64,644.04" fill="#111"/>
<text x="86.25" y="548.8" font-size="9.4" fill="#231f20" textLength="41.5" lengthAdjust="spacingAndGlyphs" text-anchor="middle" stroke="#231f20" stroke-width="0.22">50:50 mix</text>
<text x="174.4" y="548.8" font-size="9.4" fill="#231f20" textLength="41.2" lengthAdjust="spacingAndGlyphs" text-anchor="middle" stroke="#231f20" stroke-width="0.22">80:20 mix</text>
<text x="262.5" y="548.8" font-size="9.4" fill="#231f20" textLength="41" lengthAdjust="spacingAndGlyphs" text-anchor="middle" stroke="#231f20" stroke-width="0.22">50:50 mix</text>
<text x="349.8" y="548.8" font-size="9.4" fill="#231f20" textLength="42" lengthAdjust="spacingAndGlyphs" text-anchor="middle" stroke="#231f20" stroke-width="0.22">80:20 mix</text>
<text x="55.55" y="675.8" font-size="8.1" fill="#231f20" textLength="11.3" lengthAdjust="spacingAndGlyphs" text-anchor="middle" stroke="#231f20" stroke-width="0.22">Mx</text>
<text x="70.75" y="675.8" font-size="8.1" fill="#231f20" textLength="11.5" lengthAdjust="spacingAndGlyphs" text-anchor="middle" stroke="#231f20" stroke-width="0.22">ctrl</text>
<text x="100.6" y="675.8" font-size="8.1" fill="#231f20" textLength="16.4" lengthAdjust="spacingAndGlyphs" text-anchor="middle" stroke="#231f20" stroke-width="0.22">Flvcr</text>
<text x="118.25" y="675.8" font-size="8.1" fill="#231f20" textLength="11.1" lengthAdjust="spacingAndGlyphs" text-anchor="middle" stroke="#231f20" stroke-width="0.22">del</text>
<text x="142.55" y="675.8" font-size="8.1" fill="#231f20" textLength="11.3" lengthAdjust="spacingAndGlyphs" text-anchor="middle" stroke="#231f20" stroke-width="0.22">Mx</text>
<text x="158.85" y="675.8" font-size="8.1" fill="#231f20" textLength="10.9" lengthAdjust="spacingAndGlyphs" text-anchor="middle" stroke="#231f20" stroke-width="0.22">ctrl</text>
<text x="189" y="675.8" font-size="8.1" fill="#231f20" textLength="17" lengthAdjust="spacingAndGlyphs" text-anchor="middle" stroke="#231f20" stroke-width="0.22">Flvcr</text>
<text x="208.55" y="675.8" font-size="8.1" fill="#231f20" textLength="11.7" lengthAdjust="spacingAndGlyphs" text-anchor="middle" stroke="#231f20" stroke-width="0.22">del</text>
<text x="230.9" y="675.8" font-size="8.1" fill="#231f20" textLength="8.6" lengthAdjust="spacingAndGlyphs" text-anchor="middle" stroke="#231f20" stroke-width="0.22">T2</text>
<text x="246.15" y="675.8" font-size="8.1" fill="#231f20" textLength="10.7" lengthAdjust="spacingAndGlyphs" text-anchor="middle" stroke="#231f20" stroke-width="0.22">ctrl</text>
<text x="276.85" y="675.8" font-size="8.1" fill="#231f20" textLength="19.5" lengthAdjust="spacingAndGlyphs" text-anchor="middle" stroke="#231f20" stroke-width="0.22">Rpl11</text>
<text x="298.7" y="675.8" font-size="8.1" fill="#231f20" textLength="13.8" lengthAdjust="spacingAndGlyphs" text-anchor="middle" stroke="#231f20" stroke-width="0.22">hap</text>
<text x="318.4" y="675.8" font-size="8.1" fill="#231f20" textLength="8.8" lengthAdjust="spacingAndGlyphs" text-anchor="middle" stroke="#231f20" stroke-width="0.22">T2</text>
<text x="333.85" y="675.8" font-size="8.1" fill="#231f20" textLength="10.9" lengthAdjust="spacingAndGlyphs" text-anchor="middle" stroke="#231f20" stroke-width="0.22">ctrl</text>
<text x="362.55" y="675.8" font-size="8.1" fill="#231f20" textLength="19.9" lengthAdjust="spacingAndGlyphs" text-anchor="middle" stroke="#231f20" stroke-width="0.22">Rpl11</text>
<text x="383.95" y="675.8" font-size="8.1" fill="#231f20" textLength="13.3" lengthAdjust="spacingAndGlyphs" text-anchor="middle" stroke="#231f20" stroke-width="0.22">hap</text>
<text x="220.1" y="687.6" font-size="8.4" fill="#231f20" textLength="39" lengthAdjust="spacingAndGlyphs" text-anchor="middle" stroke="#231f20" stroke-width="0.22">GFP partner</text>
<rect x="408.1" y="553.1" width="10" height="7.5" fill="#11508a"/>
<text x="421.9" y="559.8" font-size="7.6" fill="#231f20" textLength="43.1" lengthAdjust="spacingAndGlyphs" stroke="#231f20" stroke-width="0.22">Granulocytes</text>
<rect x="408.1" y="564" width="10" height="7.5" fill="#c8102e"/>
<text x="421.9" y="570" font-size="7.6" fill="#231f20" textLength="13.75" lengthAdjust="spacingAndGlyphs" stroke="#231f20" stroke-width="0.22">RBC</text>
<rect x="408.1" y="575.6" width="10" height="7.5" fill="#5d2670"/>
<text x="421.9" y="580.6" font-size="7.6" fill="#231f20" textLength="20.6" lengthAdjust="spacingAndGlyphs" stroke="#231f20" stroke-width="0.22">B cells</text>
<rect x="408.1" y="586.6" width="10" height="7.5" fill="#3cb54a"/>
<text x="421.9" y="591.9" font-size="7.6" fill="#231f20" textLength="20.6" lengthAdjust="spacingAndGlyphs" stroke="#231f20" stroke-width="0.22">T cells</text>
</svg>
</body></html>
